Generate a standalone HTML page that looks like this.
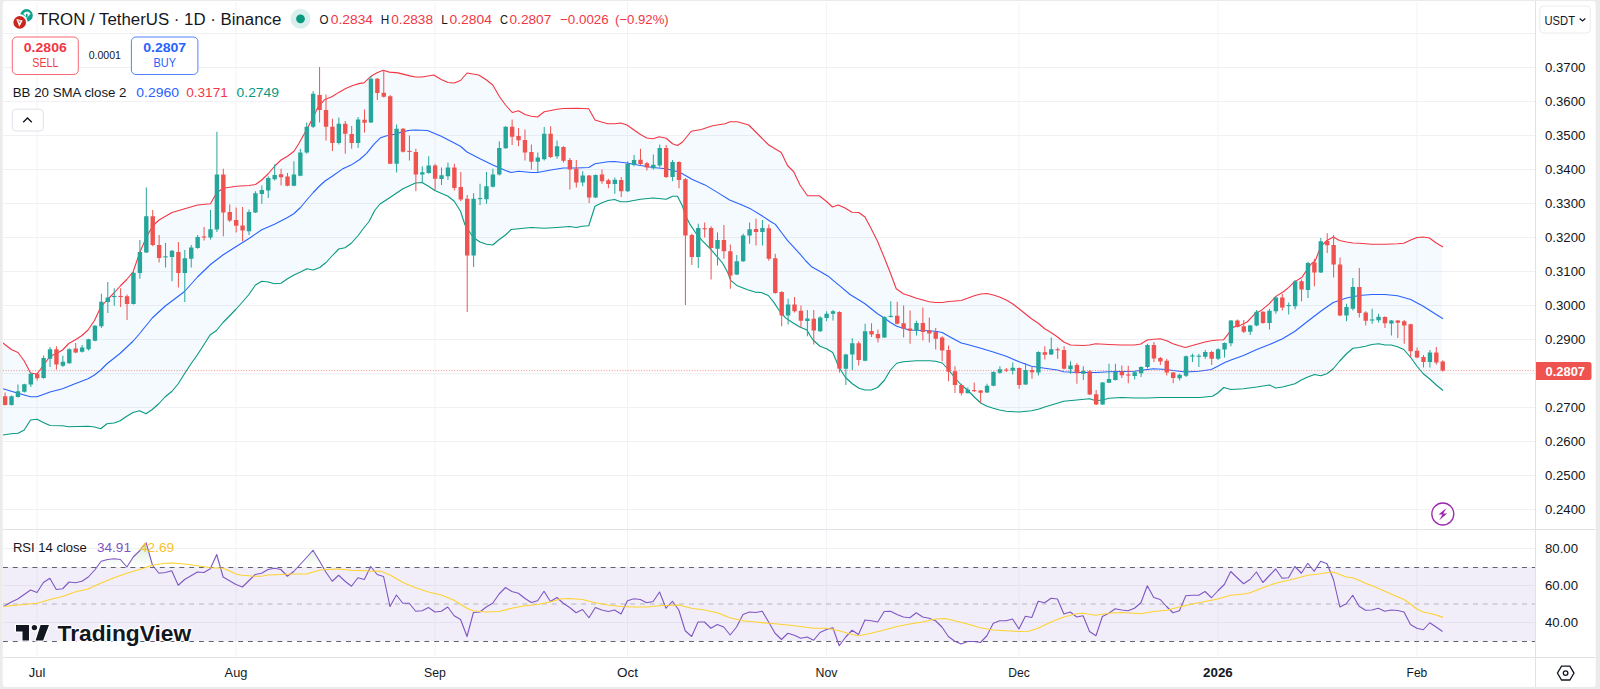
<!DOCTYPE html>
<html><head><meta charset="utf-8"><title>TRXUSDT</title>
<style>
html,body{margin:0;padding:0;background:#fff;}
body{width:1600px;height:689px;overflow:hidden;position:relative;font-family:"Liberation Sans",sans-serif;}
</style></head><body>
<svg width="1600" height="689" viewBox="0 0 1600 689" style="position:absolute;left:0;top:0;font-family:'Liberation Sans',sans-serif">
<defs>
<clipPath id="cm"><rect x="3" y="1" width="1532.5" height="528"/></clipPath>
<clipPath id="cr"><rect x="3" y="530" width="1532.5" height="127"/></clipPath>
<linearGradient id="gob" x1="0" y1="529" x2="0" y2="567.5" gradientUnits="userSpaceOnUse"><stop offset="0" stop-color="#4caf50" stop-opacity="0.35"/><stop offset="1" stop-color="#4caf50" stop-opacity="0.0"/></linearGradient>
<linearGradient id="gos" x1="0" y1="641" x2="0" y2="657" gradientUnits="userSpaceOnUse"><stop offset="0" stop-color="#ff5252" stop-opacity="0.0"/><stop offset="1" stop-color="#ff5252" stop-opacity="0.35"/></linearGradient>
</defs>
<rect x="0" y="0" width="1600" height="689" fill="#ebebeb"/>
<rect x="2.7" y="1" width="1593" height="686.1" rx="3" ry="3" fill="#ffffff"/>
<line x1="3" x2="1535" y1="33.5" y2="33.5" stroke="#f1f1f3" stroke-width="1"/>
<line x1="3" x2="1535" y1="67.5" y2="67.5" stroke="#f1f1f3" stroke-width="1"/>
<line x1="3" x2="1535" y1="101.5" y2="101.5" stroke="#f1f1f3" stroke-width="1"/>
<line x1="3" x2="1535" y1="135.5" y2="135.5" stroke="#f1f1f3" stroke-width="1"/>
<line x1="3" x2="1535" y1="169.5" y2="169.5" stroke="#f1f1f3" stroke-width="1"/>
<line x1="3" x2="1535" y1="203.5" y2="203.5" stroke="#f1f1f3" stroke-width="1"/>
<line x1="3" x2="1535" y1="237.5" y2="237.5" stroke="#f1f1f3" stroke-width="1"/>
<line x1="3" x2="1535" y1="271.5" y2="271.5" stroke="#f1f1f3" stroke-width="1"/>
<line x1="3" x2="1535" y1="305.5" y2="305.5" stroke="#f1f1f3" stroke-width="1"/>
<line x1="3" x2="1535" y1="339.5" y2="339.5" stroke="#f1f1f3" stroke-width="1"/>
<line x1="3" x2="1535" y1="373.5" y2="373.5" stroke="#f1f1f3" stroke-width="1"/>
<line x1="3" x2="1535" y1="407.5" y2="407.5" stroke="#f1f1f3" stroke-width="1"/>
<line x1="3" x2="1535" y1="441.5" y2="441.5" stroke="#f1f1f3" stroke-width="1"/>
<line x1="3" x2="1535" y1="475.5" y2="475.5" stroke="#f1f1f3" stroke-width="1"/>
<line x1="3" x2="1535" y1="509.5" y2="509.5" stroke="#f1f1f3" stroke-width="1"/>
<line x1="3" x2="1535" y1="548.5" y2="548.5" stroke="#f1f1f3" stroke-width="1"/>
<line x1="3" x2="1535" y1="585.5" y2="585.5" stroke="#f1f1f3" stroke-width="1"/>
<line x1="3" x2="1535" y1="622.5" y2="622.5" stroke="#f1f1f3" stroke-width="1"/>
<line x1="37.0" x2="37.0" y1="2" y2="657" stroke="#f3f3f5" stroke-width="1"/>
<line x1="236.0" x2="236.0" y1="2" y2="657" stroke="#f3f3f5" stroke-width="1"/>
<line x1="434.9" x2="434.9" y1="2" y2="657" stroke="#f3f3f5" stroke-width="1"/>
<line x1="627.5" x2="627.5" y1="2" y2="657" stroke="#f3f3f5" stroke-width="1"/>
<line x1="826.4" x2="826.4" y1="2" y2="657" stroke="#f3f3f5" stroke-width="1"/>
<line x1="1019.0" x2="1019.0" y1="2" y2="657" stroke="#f3f3f5" stroke-width="1"/>
<line x1="1217.9" x2="1217.9" y1="2" y2="657" stroke="#f3f3f5" stroke-width="1"/>
<line x1="1416.9" x2="1416.9" y1="2" y2="657" stroke="#f3f3f5" stroke-width="1"/>
<g clip-path="url(#cm)">
<clipPath id="cf"><rect x="3" y="1" width="1439" height="528"/></clipPath>
<polygon clip-path="url(#cf)" points="3.00,343.00 11.25,349.50 18.00,352.50 24.25,361.00 30.50,373.00 37.00,374.00 43.25,365.50 50.00,356.25 56.50,353.50 62.50,350.00 68.75,343.50 75.00,340.00 82.00,335.50 88.00,330.00 94.50,320.50 100.75,307.00 107.00,300.00 114.00,293.00 120.25,286.00 126.75,279.50 133.00,272.00 139.75,252.50 146.25,237.50 152.50,226.25 159.00,220.00 172.00,212.50 184.75,208.75 197.50,205.00 210.50,203.75 216.75,192.50 223.25,188.25 236.25,186.25 249.00,185.50 255.50,184.50 261.75,180.00 268.25,173.75 274.50,166.25 281.00,160.00 287.50,156.25 294.00,151.25 298.70,143.80 307.40,128.20 312.60,118.60 317.90,107.30 324.80,99.40 331.80,96.80 338.80,92.40 345.70,88.40 352.70,85.50 359.70,83.40 364.00,82.90 371.00,76.20 377.00,72.80 383.20,70.30 389.30,72.10 398.00,72.90 410.00,75.90 415.50,77.00 422.00,77.00 433.75,75.00 441.25,79.50 448.00,82.50 454.25,83.00 460.50,80.50 467.00,73.00 478.75,75.00 486.50,80.00 492.75,85.00 499.25,96.25 505.50,105.00 512.25,112.50 518.50,110.75 525.00,114.50 531.25,116.25 537.50,117.00 544.25,111.75 550.75,110.50 557.00,109.25 563.25,108.50 576.25,108.25 588.75,108.75 595.00,120.00 601.50,122.00 608.00,123.75 614.50,123.75 620.75,123.00 627.00,125.00 634.00,130.00 640.50,134.50 646.75,138.00 653.00,138.75 659.25,136.75 666.25,138.25 672.50,143.75 677.50,145.50 682.50,142.00 691.25,131.25 701.25,129.50 712.50,125.75 725.00,123.75 730.00,121.75 737.50,121.75 748.75,125.00 757.50,133.75 760.00,136.25 768.75,145.00 781.25,152.50 787.50,165.50 793.75,171.75 800.00,185.00 807.50,195.75 819.25,195.75 826.25,201.25 832.50,207.00 838.25,205.00 845.00,208.00 852.00,212.25 858.75,212.50 865.00,217.00 871.25,228.75 877.50,241.25 883.75,256.25 890.00,272.00 896.25,288.75 903.25,293.75 909.50,295.75 916.50,298.25 923.00,300.00 929.25,301.75 935.50,302.50 942.25,302.50 948.75,301.50 961.25,300.50 967.50,298.25 974.25,295.75 980.75,294.00 987.00,293.50 993.25,295.00 999.50,297.00 1006.25,300.00 1012.50,303.75 1019.00,308.75 1025.25,313.75 1031.50,318.75 1038.25,323.25 1044.75,328.75 1051.00,332.50 1057.25,336.75 1063.75,342.00 1070.50,345.00 1083.25,345.50 1089.50,345.00 1095.75,343.75 1109.00,344.50 1121.50,345.00 1134.50,345.00 1140.75,344.00 1147.25,340.00 1153.75,339.25 1160.25,338.75 1166.75,340.75 1173.00,343.75 1179.25,345.75 1185.50,347.50 1192.25,345.50 1198.75,343.75 1205.00,342.00 1211.25,340.75 1217.75,340.00 1223.70,339.70 1228.80,333.20 1233.30,327.10 1241.00,325.00 1247.10,322.00 1251.10,317.90 1255.20,313.30 1261.30,310.40 1269.40,303.70 1275.50,296.60 1283.70,291.50 1288.70,287.40 1293.80,282.40 1302.00,277.30 1308.00,268.10 1312.10,263.00 1315.20,261.00 1320.75,246.25 1327.00,240.50 1333.25,237.00 1339.50,240.50 1346.50,242.00 1353.00,243.00 1359.25,243.25 1371.75,244.25 1385.00,244.25 1397.50,243.75 1403.75,243.25 1410.75,240.00 1417.00,237.50 1423.25,237.00 1429.50,238.00 1436.25,243.00 1443.00,247.00 1443.00,390.50 1436.25,385.00 1429.50,378.75 1423.25,373.75 1417.00,366.25 1410.75,357.50 1403.75,349.50 1397.50,346.75 1391.25,345.00 1385.00,345.00 1378.75,343.75 1371.75,344.50 1365.50,346.25 1359.25,347.50 1353.00,348.25 1346.50,353.75 1339.50,361.25 1333.25,368.75 1327.00,373.75 1320.75,375.75 1314.50,374.50 1307.75,377.00 1301.25,380.00 1295.00,383.75 1282.50,387.00 1275.75,388.00 1269.50,385.00 1256.75,387.00 1243.50,388.75 1231.00,389.50 1223.75,387.50 1217.75,393.00 1212.50,396.25 1200.00,397.50 1185.00,397.50 1160.00,397.50 1147.25,398.00 1134.50,398.00 1121.50,397.50 1109.00,398.25 1102.50,400.00 1095.75,400.75 1089.50,398.75 1076.75,400.00 1063.75,401.25 1057.25,403.25 1044.75,407.00 1038.25,409.25 1031.50,410.75 1019.00,412.00 1006.25,411.25 999.50,410.00 993.25,408.25 987.00,406.25 980.75,403.00 974.25,397.00 967.50,390.00 961.25,385.00 955.00,378.00 948.75,370.00 942.25,363.00 935.50,361.25 929.25,360.75 916.50,360.75 903.25,361.75 896.75,363.25 890.50,370.00 884.25,380.50 877.50,387.50 871.25,390.00 865.00,390.00 859.00,388.25 852.25,383.75 845.50,377.50 839.00,367.50 832.75,352.50 826.50,348.75 820.00,346.25 813.00,340.00 809.90,335.20 806.90,330.10 799.80,327.00 791.60,322.00 785.50,317.90 779.40,310.80 773.30,301.60 768.30,295.50 761.10,292.50 755.00,292.10 746.90,289.40 736.70,285.40 730.70,280.30 727.60,272.20 722.50,263.00 716.40,255.90 710.30,248.80 702.20,240.70 696.10,233.50 690.00,224.40 685.25,215.00 682.50,206.25 677.50,196.25 672.50,196.25 666.25,199.25 653.00,198.00 640.50,199.25 627.00,201.75 620.75,201.75 614.50,199.50 608.00,200.50 601.50,203.00 595.00,206.25 588.75,225.75 582.50,226.25 576.25,227.50 569.50,226.50 557.00,227.50 544.25,228.25 531.25,227.50 518.50,228.75 511.25,229.50 505.50,235.00 499.25,239.50 492.75,245.00 486.50,244.25 480.00,242.00 473.25,237.50 465.00,225.00 460.50,211.25 454.25,201.25 448.00,196.25 434.75,190.50 428.50,186.25 422.00,182.50 415.50,183.00 403.00,188.75 390.00,197.50 380.00,204.00 375.00,210.00 368.75,222.00 364.50,227.00 358.00,235.75 351.25,243.25 345.00,247.75 338.75,249.00 332.25,255.75 326.00,262.50 319.75,267.50 313.25,270.00 307.00,268.75 300.50,272.00 294.00,275.00 287.50,278.75 281.00,283.25 274.50,283.75 268.25,282.00 261.75,281.25 255.50,285.00 248.50,295.00 242.00,302.50 235.75,309.50 229.25,316.25 223.00,322.50 216.50,330.50 210.00,335.00 203.75,345.00 197.25,355.00 191.00,363.75 184.50,373.75 178.25,383.75 172.00,391.25 165.00,397.00 158.75,403.75 152.25,409.50 146.00,413.75 139.50,410.75 133.00,412.50 126.75,416.25 120.25,420.75 114.00,423.00 107.00,423.75 100.75,428.75 94.50,427.00 88.00,426.25 68.75,426.75 62.50,425.75 50.00,425.50 43.25,422.50 37.00,419.25 30.50,420.00 24.25,430.00 18.00,433.25 11.25,433.75 3.00,435.00" fill="#2196f3" fill-opacity="0.05"/>
<polyline points="3.00,388.75 11.25,391.25 24.25,395.00 30.50,396.75 37.00,396.75 43.25,394.50 50.00,392.00 62.50,388.75 75.00,383.75 88.00,378.75 94.50,375.00 100.75,370.00 107.00,363.75 120.25,353.25 133.00,341.25 139.50,333.75 152.25,318.00 165.00,306.25 178.25,296.25 184.50,291.50 197.50,277.00 210.50,264.50 223.25,254.75 236.25,246.50 249.00,238.50 261.75,229.75 274.50,224.25 287.50,217.50 293.75,213.75 300.50,207.50 306.75,200.00 313.25,192.50 319.25,186.25 325.00,181.00 332.25,176.25 342.30,169.10 351.00,165.10 359.70,159.50 366.60,153.40 373.60,144.70 380.60,137.70 385.80,136.00 394.50,134.30 403.20,131.60 410.00,130.20 415.50,130.00 427.50,130.50 441.25,136.25 460.50,146.25 467.00,152.00 480.00,158.75 492.75,165.00 505.50,170.50 511.25,172.50 518.50,171.25 531.25,172.50 537.50,172.50 550.75,170.00 563.25,168.00 576.25,168.00 588.75,167.50 595.00,163.75 608.00,161.75 614.50,161.50 627.00,163.00 640.50,165.50 653.00,167.50 666.25,168.75 679.00,172.00 682.40,173.70 692.40,179.40 704.90,184.90 717.40,192.40 729.60,200.00 740.80,204.50 751.00,209.10 761.10,215.20 771.30,222.00 775.40,224.40 781.50,232.50 787.60,240.70 793.70,247.20 799.80,253.90 805.90,261.00 812.00,267.10 820.10,271.50 828.20,276.20 834.30,281.30 840.40,286.40 850.00,294.50 859.00,300.00 865.00,303.75 877.50,313.75 884.25,318.00 890.50,322.50 896.75,326.25 903.25,328.25 909.50,330.00 923.00,330.50 935.50,331.25 942.25,332.50 948.75,336.25 961.25,343.00 967.50,344.50 980.75,348.25 993.25,352.00 1006.25,356.25 1019.00,361.75 1031.50,366.25 1044.75,368.25 1057.25,370.00 1063.75,371.75 1076.75,372.50 1095.75,372.50 1109.00,371.75 1134.50,371.25 1147.25,369.50 1153.25,368.75 1166.75,369.50 1173.00,370.50 1185.50,372.00 1198.75,371.25 1211.25,369.50 1217.75,366.25 1224.75,362.50 1231.00,360.00 1243.50,355.50 1256.75,349.50 1269.50,344.50 1282.50,338.75 1295.00,331.25 1307.75,321.25 1320.75,311.25 1333.25,302.50 1346.50,298.00 1359.25,295.50 1371.75,294.50 1385.00,294.50 1397.50,295.75 1410.75,299.50 1423.25,306.25 1436.25,314.50 1443.00,318.75" fill="none" stroke="#2962ff" stroke-width="1.1" stroke-linejoin="round"/>
<polyline points="3.00,343.00 11.25,349.50 18.00,352.50 24.25,361.00 30.50,373.00 37.00,374.00 43.25,365.50 50.00,356.25 56.50,353.50 62.50,350.00 68.75,343.50 75.00,340.00 82.00,335.50 88.00,330.00 94.50,320.50 100.75,307.00 107.00,300.00 114.00,293.00 120.25,286.00 126.75,279.50 133.00,272.00 139.75,252.50 146.25,237.50 152.50,226.25 159.00,220.00 172.00,212.50 184.75,208.75 197.50,205.00 210.50,203.75 216.75,192.50 223.25,188.25 236.25,186.25 249.00,185.50 255.50,184.50 261.75,180.00 268.25,173.75 274.50,166.25 281.00,160.00 287.50,156.25 294.00,151.25 298.70,143.80 307.40,128.20 312.60,118.60 317.90,107.30 324.80,99.40 331.80,96.80 338.80,92.40 345.70,88.40 352.70,85.50 359.70,83.40 364.00,82.90 371.00,76.20 377.00,72.80 383.20,70.30 389.30,72.10 398.00,72.90 410.00,75.90 415.50,77.00 422.00,77.00 433.75,75.00 441.25,79.50 448.00,82.50 454.25,83.00 460.50,80.50 467.00,73.00 478.75,75.00 486.50,80.00 492.75,85.00 499.25,96.25 505.50,105.00 512.25,112.50 518.50,110.75 525.00,114.50 531.25,116.25 537.50,117.00 544.25,111.75 550.75,110.50 557.00,109.25 563.25,108.50 576.25,108.25 588.75,108.75 595.00,120.00 601.50,122.00 608.00,123.75 614.50,123.75 620.75,123.00 627.00,125.00 634.00,130.00 640.50,134.50 646.75,138.00 653.00,138.75 659.25,136.75 666.25,138.25 672.50,143.75 677.50,145.50 682.50,142.00 691.25,131.25 701.25,129.50 712.50,125.75 725.00,123.75 730.00,121.75 737.50,121.75 748.75,125.00 757.50,133.75 760.00,136.25 768.75,145.00 781.25,152.50 787.50,165.50 793.75,171.75 800.00,185.00 807.50,195.75 819.25,195.75 826.25,201.25 832.50,207.00 838.25,205.00 845.00,208.00 852.00,212.25 858.75,212.50 865.00,217.00 871.25,228.75 877.50,241.25 883.75,256.25 890.00,272.00 896.25,288.75 903.25,293.75 909.50,295.75 916.50,298.25 923.00,300.00 929.25,301.75 935.50,302.50 942.25,302.50 948.75,301.50 961.25,300.50 967.50,298.25 974.25,295.75 980.75,294.00 987.00,293.50 993.25,295.00 999.50,297.00 1006.25,300.00 1012.50,303.75 1019.00,308.75 1025.25,313.75 1031.50,318.75 1038.25,323.25 1044.75,328.75 1051.00,332.50 1057.25,336.75 1063.75,342.00 1070.50,345.00 1083.25,345.50 1089.50,345.00 1095.75,343.75 1109.00,344.50 1121.50,345.00 1134.50,345.00 1140.75,344.00 1147.25,340.00 1153.75,339.25 1160.25,338.75 1166.75,340.75 1173.00,343.75 1179.25,345.75 1185.50,347.50 1192.25,345.50 1198.75,343.75 1205.00,342.00 1211.25,340.75 1217.75,340.00 1223.70,339.70 1228.80,333.20 1233.30,327.10 1241.00,325.00 1247.10,322.00 1251.10,317.90 1255.20,313.30 1261.30,310.40 1269.40,303.70 1275.50,296.60 1283.70,291.50 1288.70,287.40 1293.80,282.40 1302.00,277.30 1308.00,268.10 1312.10,263.00 1315.20,261.00 1320.75,246.25 1327.00,240.50 1333.25,237.00 1339.50,240.50 1346.50,242.00 1353.00,243.00 1359.25,243.25 1371.75,244.25 1385.00,244.25 1397.50,243.75 1403.75,243.25 1410.75,240.00 1417.00,237.50 1423.25,237.00 1429.50,238.00 1436.25,243.00 1443.00,247.00" fill="none" stroke="#f23645" stroke-width="1.1" stroke-linejoin="round"/>
<polyline points="3.00,435.00 11.25,433.75 18.00,433.25 24.25,430.00 30.50,420.00 37.00,419.25 43.25,422.50 50.00,425.50 62.50,425.75 68.75,426.75 88.00,426.25 94.50,427.00 100.75,428.75 107.00,423.75 114.00,423.00 120.25,420.75 126.75,416.25 133.00,412.50 139.50,410.75 146.00,413.75 152.25,409.50 158.75,403.75 165.00,397.00 172.00,391.25 178.25,383.75 184.50,373.75 191.00,363.75 197.25,355.00 203.75,345.00 210.00,335.00 216.50,330.50 223.00,322.50 229.25,316.25 235.75,309.50 242.00,302.50 248.50,295.00 255.50,285.00 261.75,281.25 268.25,282.00 274.50,283.75 281.00,283.25 287.50,278.75 294.00,275.00 300.50,272.00 307.00,268.75 313.25,270.00 319.75,267.50 326.00,262.50 332.25,255.75 338.75,249.00 345.00,247.75 351.25,243.25 358.00,235.75 364.50,227.00 368.75,222.00 375.00,210.00 380.00,204.00 390.00,197.50 403.00,188.75 415.50,183.00 422.00,182.50 428.50,186.25 434.75,190.50 448.00,196.25 454.25,201.25 460.50,211.25 465.00,225.00 473.25,237.50 480.00,242.00 486.50,244.25 492.75,245.00 499.25,239.50 505.50,235.00 511.25,229.50 518.50,228.75 531.25,227.50 544.25,228.25 557.00,227.50 569.50,226.50 576.25,227.50 582.50,226.25 588.75,225.75 595.00,206.25 601.50,203.00 608.00,200.50 614.50,199.50 620.75,201.75 627.00,201.75 640.50,199.25 653.00,198.00 666.25,199.25 672.50,196.25 677.50,196.25 682.50,206.25 685.25,215.00 690.00,224.40 696.10,233.50 702.20,240.70 710.30,248.80 716.40,255.90 722.50,263.00 727.60,272.20 730.70,280.30 736.70,285.40 746.90,289.40 755.00,292.10 761.10,292.50 768.30,295.50 773.30,301.60 779.40,310.80 785.50,317.90 791.60,322.00 799.80,327.00 806.90,330.10 809.90,335.20 813.00,340.00 820.00,346.25 826.50,348.75 832.75,352.50 839.00,367.50 845.50,377.50 852.25,383.75 859.00,388.25 865.00,390.00 871.25,390.00 877.50,387.50 884.25,380.50 890.50,370.00 896.75,363.25 903.25,361.75 916.50,360.75 929.25,360.75 935.50,361.25 942.25,363.00 948.75,370.00 955.00,378.00 961.25,385.00 967.50,390.00 974.25,397.00 980.75,403.00 987.00,406.25 993.25,408.25 999.50,410.00 1006.25,411.25 1019.00,412.00 1031.50,410.75 1038.25,409.25 1044.75,407.00 1057.25,403.25 1063.75,401.25 1076.75,400.00 1089.50,398.75 1095.75,400.75 1102.50,400.00 1109.00,398.25 1121.50,397.50 1134.50,398.00 1147.25,398.00 1160.00,397.50 1185.00,397.50 1200.00,397.50 1212.50,396.25 1217.75,393.00 1223.75,387.50 1231.00,389.50 1243.50,388.75 1256.75,387.00 1269.50,385.00 1275.75,388.00 1282.50,387.00 1295.00,383.75 1301.25,380.00 1307.75,377.00 1314.50,374.50 1320.75,375.75 1327.00,373.75 1333.25,368.75 1339.50,361.25 1346.50,353.75 1353.00,348.25 1359.25,347.50 1365.50,346.25 1371.75,344.50 1378.75,343.75 1385.00,345.00 1391.25,345.00 1397.50,346.75 1403.75,349.50 1410.75,357.50 1417.00,366.25 1423.25,373.75 1429.50,378.75 1436.25,385.00 1443.00,390.50" fill="none" stroke="#089981" stroke-width="1.1" stroke-linejoin="round"/>
<line x1="3" x2="1535" y1="370.6" y2="370.6" stroke="#ef5350" stroke-width="1" stroke-dasharray="1 1.67" stroke-opacity="0.65"/>
<line x1="5.11" x2="5.11" y1="392.50" y2="405.50" stroke="#ef5350" stroke-width="1"/>
 <rect x="2.91" y="396.25" width="4.4" height="8.75" fill="#ef5350"/>
<line x1="11.53" x2="11.53" y1="395.50" y2="405.50" stroke="#26a69a" stroke-width="1"/>
 <rect x="9.33" y="396.25" width="4.4" height="8.75" fill="#26a69a"/>
<line x1="17.95" x2="17.95" y1="384.50" y2="397.50" stroke="#26a69a" stroke-width="1"/>
 <rect x="15.75" y="391.25" width="4.4" height="5.75" fill="#26a69a"/>
<line x1="24.36" x2="24.36" y1="383.75" y2="392.50" stroke="#26a69a" stroke-width="1"/>
 <rect x="22.16" y="384.25" width="4.4" height="7.50" fill="#26a69a"/>
<line x1="30.78" x2="30.78" y1="372.50" y2="387.00" stroke="#26a69a" stroke-width="1"/>
 <rect x="28.58" y="373.75" width="4.4" height="10.75" fill="#26a69a"/>
<line x1="37.20" x2="37.20" y1="372.50" y2="380.50" stroke="#ef5350" stroke-width="1"/>
 <rect x="35.00" y="373.75" width="4.4" height="4.50" fill="#ef5350"/>
<line x1="43.62" x2="43.62" y1="355.50" y2="378.75" stroke="#26a69a" stroke-width="1"/>
 <rect x="41.42" y="358.00" width="4.4" height="20.00" fill="#26a69a"/>
<line x1="50.04" x2="50.04" y1="347.00" y2="367.00" stroke="#26a69a" stroke-width="1"/>
 <rect x="47.84" y="349.25" width="4.4" height="9.50" fill="#26a69a"/>
<line x1="56.45" x2="56.45" y1="346.25" y2="369.50" stroke="#ef5350" stroke-width="1"/>
 <rect x="54.25" y="349.25" width="4.4" height="15.25" fill="#ef5350"/>
<line x1="62.87" x2="62.87" y1="355.75" y2="367.00" stroke="#26a69a" stroke-width="1"/>
 <rect x="60.67" y="361.75" width="4.4" height="4.00" fill="#26a69a"/>
<line x1="69.29" x2="69.29" y1="348.25" y2="363.75" stroke="#26a69a" stroke-width="1"/>
 <rect x="67.09" y="349.25" width="4.4" height="14.00" fill="#26a69a"/>
<line x1="75.71" x2="75.71" y1="343.00" y2="353.25" stroke="#ef5350" stroke-width="1"/>
 <rect x="73.51" y="348.50" width="4.4" height="4.00" fill="#ef5350"/>
<line x1="82.13" x2="82.13" y1="345.00" y2="352.50" stroke="#26a69a" stroke-width="1"/>
 <rect x="79.93" y="347.50" width="4.4" height="4.25" fill="#26a69a"/>
<line x1="88.54" x2="88.54" y1="338.75" y2="350.50" stroke="#26a69a" stroke-width="1"/>
 <rect x="86.34" y="339.25" width="4.4" height="10.00" fill="#26a69a"/>
<line x1="94.96" x2="94.96" y1="325.00" y2="341.25" stroke="#26a69a" stroke-width="1"/>
 <rect x="92.76" y="325.75" width="4.4" height="15.00" fill="#26a69a"/>
<line x1="101.38" x2="101.38" y1="293.75" y2="328.00" stroke="#26a69a" stroke-width="1"/>
 <rect x="99.18" y="301.75" width="4.4" height="24.50" fill="#26a69a"/>
<line x1="107.80" x2="107.80" y1="282.00" y2="313.00" stroke="#26a69a" stroke-width="1"/>
 <rect x="105.60" y="297.50" width="4.4" height="4.50" fill="#26a69a"/>
<line x1="114.22" x2="114.22" y1="288.25" y2="305.75" stroke="#26a69a" stroke-width="1"/>
 <rect x="112.02" y="295.95" width="4.4" height="1.10" fill="#26a69a"/>
<line x1="120.63" x2="120.63" y1="288.25" y2="307.00" stroke="#ef5350" stroke-width="1"/>
 <rect x="118.43" y="295.95" width="4.4" height="1.10" fill="#ef5350"/>
<line x1="127.05" x2="127.05" y1="294.50" y2="320.00" stroke="#ef5350" stroke-width="1"/>
 <rect x="124.85" y="296.25" width="4.4" height="7.75" fill="#ef5350"/>
<line x1="133.47" x2="133.47" y1="272.00" y2="304.50" stroke="#26a69a" stroke-width="1"/>
 <rect x="131.27" y="272.75" width="4.4" height="31.25" fill="#26a69a"/>
<line x1="139.89" x2="139.89" y1="240.00" y2="278.75" stroke="#26a69a" stroke-width="1"/>
 <rect x="137.69" y="252.00" width="4.4" height="21.00" fill="#26a69a"/>
<line x1="146.31" x2="146.31" y1="187.50" y2="253.00" stroke="#26a69a" stroke-width="1"/>
 <rect x="144.11" y="216.25" width="4.4" height="36.25" fill="#26a69a"/>
<line x1="152.72" x2="152.72" y1="210.00" y2="246.25" stroke="#ef5350" stroke-width="1"/>
 <rect x="150.52" y="216.25" width="4.4" height="28.75" fill="#ef5350"/>
<line x1="159.14" x2="159.14" y1="235.00" y2="262.50" stroke="#ef5350" stroke-width="1"/>
 <rect x="156.94" y="245.00" width="4.4" height="13.00" fill="#ef5350"/>
<line x1="165.56" x2="165.56" y1="243.00" y2="267.50" stroke="#26a69a" stroke-width="1"/>
 <rect x="163.36" y="256.32" width="4.4" height="1.10" fill="#26a69a"/>
<line x1="171.98" x2="171.98" y1="250.00" y2="281.25" stroke="#26a69a" stroke-width="1"/>
 <rect x="169.78" y="250.75" width="4.4" height="6.25" fill="#26a69a"/>
<line x1="178.40" x2="178.40" y1="242.00" y2="287.50" stroke="#ef5350" stroke-width="1"/>
 <rect x="176.20" y="252.00" width="4.4" height="21.00" fill="#ef5350"/>
<line x1="184.81" x2="184.81" y1="250.00" y2="302.00" stroke="#26a69a" stroke-width="1"/>
 <rect x="182.61" y="258.25" width="4.4" height="14.75" fill="#26a69a"/>
<line x1="191.23" x2="191.23" y1="245.00" y2="267.50" stroke="#26a69a" stroke-width="1"/>
 <rect x="189.03" y="247.50" width="4.4" height="11.25" fill="#26a69a"/>
<line x1="197.65" x2="197.65" y1="235.00" y2="248.75" stroke="#26a69a" stroke-width="1"/>
 <rect x="195.45" y="237.00" width="4.4" height="11.00" fill="#26a69a"/>
<line x1="204.07" x2="204.07" y1="227.00" y2="240.50" stroke="#ef5350" stroke-width="1"/>
 <rect x="201.87" y="236.45" width="4.4" height="1.10" fill="#ef5350"/>
<line x1="210.49" x2="210.49" y1="210.00" y2="239.50" stroke="#26a69a" stroke-width="1"/>
 <rect x="208.29" y="229.25" width="4.4" height="8.25" fill="#26a69a"/>
<line x1="216.90" x2="216.90" y1="131.75" y2="232.00" stroke="#26a69a" stroke-width="1"/>
 <rect x="214.70" y="174.50" width="4.4" height="55.00" fill="#26a69a"/>
<line x1="223.32" x2="223.32" y1="168.75" y2="236.25" stroke="#ef5350" stroke-width="1"/>
 <rect x="221.12" y="174.50" width="4.4" height="38.00" fill="#ef5350"/>
<line x1="229.74" x2="229.74" y1="204.50" y2="222.00" stroke="#ef5350" stroke-width="1"/>
 <rect x="227.54" y="212.00" width="4.4" height="8.50" fill="#ef5350"/>
<line x1="236.16" x2="236.16" y1="207.50" y2="232.50" stroke="#ef5350" stroke-width="1"/>
 <rect x="233.96" y="220.00" width="4.4" height="5.75" fill="#ef5350"/>
<line x1="242.58" x2="242.58" y1="207.00" y2="241.25" stroke="#ef5350" stroke-width="1"/>
 <rect x="240.38" y="225.50" width="4.4" height="5.00" fill="#ef5350"/>
<line x1="248.99" x2="248.99" y1="209.50" y2="235.00" stroke="#26a69a" stroke-width="1"/>
 <rect x="246.79" y="212.00" width="4.4" height="19.25" fill="#26a69a"/>
<line x1="255.41" x2="255.41" y1="191.25" y2="213.00" stroke="#26a69a" stroke-width="1"/>
 <rect x="253.21" y="193.25" width="4.4" height="19.25" fill="#26a69a"/>
<line x1="261.83" x2="261.83" y1="185.50" y2="203.75" stroke="#26a69a" stroke-width="1"/>
 <rect x="259.63" y="190.00" width="4.4" height="4.00" fill="#26a69a"/>
<line x1="268.25" x2="268.25" y1="176.25" y2="198.00" stroke="#26a69a" stroke-width="1"/>
 <rect x="266.05" y="178.00" width="4.4" height="12.50" fill="#26a69a"/>
<line x1="274.67" x2="274.67" y1="164.50" y2="180.50" stroke="#26a69a" stroke-width="1"/>
 <rect x="272.47" y="175.00" width="4.4" height="4.25" fill="#26a69a"/>
<line x1="281.08" x2="281.08" y1="168.75" y2="185.50" stroke="#ef5350" stroke-width="1"/>
 <rect x="278.88" y="174.25" width="4.4" height="3.00" fill="#ef5350"/>
<line x1="287.50" x2="287.50" y1="173.00" y2="186.25" stroke="#ef5350" stroke-width="1"/>
 <rect x="285.30" y="176.50" width="4.4" height="9.25" fill="#ef5350"/>
<line x1="293.92" x2="293.92" y1="161.25" y2="186.25" stroke="#26a69a" stroke-width="1"/>
 <rect x="291.72" y="174.50" width="4.4" height="11.25" fill="#26a69a"/>
<line x1="300.34" x2="300.34" y1="148.75" y2="176.25" stroke="#26a69a" stroke-width="1"/>
 <rect x="298.14" y="152.50" width="4.4" height="23.25" fill="#26a69a"/>
<line x1="306.76" x2="306.76" y1="122.50" y2="153.75" stroke="#26a69a" stroke-width="1"/>
 <rect x="304.56" y="126.75" width="4.4" height="25.75" fill="#26a69a"/>
<line x1="313.17" x2="313.17" y1="91.00" y2="128.00" stroke="#26a69a" stroke-width="1"/>
 <rect x="310.97" y="93.75" width="4.4" height="33.00" fill="#26a69a"/>
<line x1="319.59" x2="319.59" y1="67.00" y2="122.50" stroke="#ef5350" stroke-width="1"/>
 <rect x="317.39" y="95.00" width="4.4" height="15.00" fill="#ef5350"/>
<line x1="326.01" x2="326.01" y1="94.50" y2="140.50" stroke="#ef5350" stroke-width="1"/>
 <rect x="323.81" y="110.00" width="4.4" height="16.75" fill="#ef5350"/>
<line x1="332.43" x2="332.43" y1="118.75" y2="151.00" stroke="#ef5350" stroke-width="1"/>
 <rect x="330.23" y="126.75" width="4.4" height="16.25" fill="#ef5350"/>
<line x1="338.85" x2="338.85" y1="117.50" y2="144.50" stroke="#26a69a" stroke-width="1"/>
 <rect x="336.65" y="123.75" width="4.4" height="19.25" fill="#26a69a"/>
<line x1="345.26" x2="345.26" y1="121.00" y2="153.75" stroke="#ef5350" stroke-width="1"/>
 <rect x="343.06" y="123.75" width="4.4" height="10.00" fill="#ef5350"/>
<line x1="351.68" x2="351.68" y1="126.00" y2="148.75" stroke="#ef5350" stroke-width="1"/>
 <rect x="349.48" y="134.00" width="4.4" height="9.00" fill="#ef5350"/>
<line x1="358.10" x2="358.10" y1="117.00" y2="148.00" stroke="#26a69a" stroke-width="1"/>
 <rect x="355.90" y="119.50" width="4.4" height="23.50" fill="#26a69a"/>
<line x1="364.52" x2="364.52" y1="109.50" y2="132.50" stroke="#ef5350" stroke-width="1"/>
 <rect x="362.32" y="119.75" width="4.4" height="3.00" fill="#ef5350"/>
<line x1="370.94" x2="370.94" y1="76.00" y2="123.00" stroke="#26a69a" stroke-width="1"/>
 <rect x="368.74" y="78.75" width="4.4" height="43.75" fill="#26a69a"/>
<line x1="377.35" x2="377.35" y1="78.00" y2="100.00" stroke="#ef5350" stroke-width="1"/>
 <rect x="375.15" y="78.75" width="4.4" height="14.25" fill="#ef5350"/>
<line x1="383.77" x2="383.77" y1="70.00" y2="97.50" stroke="#ef5350" stroke-width="1"/>
 <rect x="381.57" y="92.75" width="4.4" height="4.00" fill="#ef5350"/>
<line x1="390.19" x2="390.19" y1="95.00" y2="164.00" stroke="#ef5350" stroke-width="1"/>
 <rect x="387.99" y="96.25" width="4.4" height="67.50" fill="#ef5350"/>
<line x1="396.61" x2="396.61" y1="124.50" y2="172.50" stroke="#26a69a" stroke-width="1"/>
 <rect x="394.41" y="128.75" width="4.4" height="35.00" fill="#26a69a"/>
<line x1="403.03" x2="403.03" y1="128.00" y2="152.50" stroke="#ef5350" stroke-width="1"/>
 <rect x="400.83" y="128.75" width="4.4" height="23.00" fill="#ef5350"/>
<line x1="409.44" x2="409.44" y1="135.50" y2="160.50" stroke="#ef5350" stroke-width="1"/>
 <rect x="407.24" y="150.82" width="4.4" height="1.10" fill="#ef5350"/>
<line x1="415.86" x2="415.86" y1="148.75" y2="191.25" stroke="#ef5350" stroke-width="1"/>
 <rect x="413.66" y="152.00" width="4.4" height="22.50" fill="#ef5350"/>
<line x1="422.28" x2="422.28" y1="166.25" y2="182.50" stroke="#26a69a" stroke-width="1"/>
 <rect x="420.08" y="172.25" width="4.4" height="2.25" fill="#26a69a"/>
<line x1="428.70" x2="428.70" y1="156.25" y2="173.75" stroke="#26a69a" stroke-width="1"/>
 <rect x="426.50" y="165.50" width="4.4" height="7.50" fill="#26a69a"/>
<line x1="435.12" x2="435.12" y1="163.75" y2="190.00" stroke="#ef5350" stroke-width="1"/>
 <rect x="432.92" y="165.50" width="4.4" height="13.25" fill="#ef5350"/>
<line x1="441.53" x2="441.53" y1="167.50" y2="185.00" stroke="#26a69a" stroke-width="1"/>
 <rect x="439.33" y="175.25" width="4.4" height="3.75" fill="#26a69a"/>
<line x1="447.95" x2="447.95" y1="162.50" y2="180.00" stroke="#26a69a" stroke-width="1"/>
 <rect x="445.75" y="167.50" width="4.4" height="8.75" fill="#26a69a"/>
<line x1="454.37" x2="454.37" y1="163.75" y2="190.50" stroke="#ef5350" stroke-width="1"/>
 <rect x="452.17" y="167.50" width="4.4" height="20.50" fill="#ef5350"/>
<line x1="460.79" x2="460.79" y1="172.00" y2="201.25" stroke="#ef5350" stroke-width="1"/>
 <rect x="458.59" y="187.00" width="4.4" height="12.50" fill="#ef5350"/>
<line x1="467.21" x2="467.21" y1="195.00" y2="312.00" stroke="#ef5350" stroke-width="1"/>
 <rect x="465.01" y="198.75" width="4.4" height="56.75" fill="#ef5350"/>
<line x1="473.62" x2="473.62" y1="193.25" y2="267.00" stroke="#26a69a" stroke-width="1"/>
 <rect x="471.42" y="198.75" width="4.4" height="56.75" fill="#26a69a"/>
<line x1="480.04" x2="480.04" y1="183.75" y2="205.00" stroke="#26a69a" stroke-width="1"/>
 <rect x="477.84" y="198.07" width="4.4" height="1.10" fill="#26a69a"/>
<line x1="486.46" x2="486.46" y1="172.00" y2="203.75" stroke="#26a69a" stroke-width="1"/>
 <rect x="484.26" y="186.25" width="4.4" height="13.00" fill="#26a69a"/>
<line x1="492.88" x2="492.88" y1="168.75" y2="187.50" stroke="#26a69a" stroke-width="1"/>
 <rect x="490.68" y="174.50" width="4.4" height="12.25" fill="#26a69a"/>
<line x1="499.30" x2="499.30" y1="141.25" y2="175.50" stroke="#26a69a" stroke-width="1"/>
 <rect x="497.10" y="148.00" width="4.4" height="26.50" fill="#26a69a"/>
<line x1="505.71" x2="505.71" y1="126.25" y2="148.75" stroke="#26a69a" stroke-width="1"/>
 <rect x="503.51" y="126.75" width="4.4" height="21.50" fill="#26a69a"/>
<line x1="512.13" x2="512.13" y1="119.50" y2="145.00" stroke="#ef5350" stroke-width="1"/>
 <rect x="509.93" y="126.75" width="4.4" height="10.00" fill="#ef5350"/>
<line x1="518.55" x2="518.55" y1="128.00" y2="146.25" stroke="#ef5350" stroke-width="1"/>
 <rect x="516.35" y="136.00" width="4.4" height="4.25" fill="#ef5350"/>
<line x1="524.97" x2="524.97" y1="129.50" y2="160.50" stroke="#ef5350" stroke-width="1"/>
 <rect x="522.77" y="140.00" width="4.4" height="12.50" fill="#ef5350"/>
<line x1="531.39" x2="531.39" y1="144.50" y2="169.50" stroke="#ef5350" stroke-width="1"/>
 <rect x="529.19" y="152.00" width="4.4" height="9.75" fill="#ef5350"/>
<line x1="537.80" x2="537.80" y1="152.50" y2="172.00" stroke="#26a69a" stroke-width="1"/>
 <rect x="535.60" y="157.50" width="4.4" height="4.25" fill="#26a69a"/>
<line x1="544.22" x2="544.22" y1="127.00" y2="160.50" stroke="#26a69a" stroke-width="1"/>
 <rect x="542.02" y="133.75" width="4.4" height="25.50" fill="#26a69a"/>
<line x1="550.64" x2="550.64" y1="126.25" y2="158.00" stroke="#ef5350" stroke-width="1"/>
 <rect x="548.44" y="133.75" width="4.4" height="23.25" fill="#ef5350"/>
<line x1="557.06" x2="557.06" y1="140.50" y2="158.75" stroke="#26a69a" stroke-width="1"/>
 <rect x="554.86" y="146.25" width="4.4" height="10.00" fill="#26a69a"/>
<line x1="563.48" x2="563.48" y1="146.25" y2="162.50" stroke="#ef5350" stroke-width="1"/>
 <rect x="561.28" y="147.00" width="4.4" height="13.75" fill="#ef5350"/>
<line x1="569.89" x2="569.89" y1="158.00" y2="189.50" stroke="#ef5350" stroke-width="1"/>
 <rect x="567.69" y="160.00" width="4.4" height="9.50" fill="#ef5350"/>
<line x1="576.31" x2="576.31" y1="160.00" y2="187.50" stroke="#ef5350" stroke-width="1"/>
 <rect x="574.11" y="168.75" width="4.4" height="13.75" fill="#ef5350"/>
<line x1="582.73" x2="582.73" y1="171.25" y2="186.25" stroke="#26a69a" stroke-width="1"/>
 <rect x="580.53" y="175.50" width="4.4" height="7.00" fill="#26a69a"/>
<line x1="589.15" x2="589.15" y1="175.00" y2="203.00" stroke="#ef5350" stroke-width="1"/>
 <rect x="586.95" y="175.50" width="4.4" height="22.00" fill="#ef5350"/>
<line x1="595.57" x2="595.57" y1="174.50" y2="198.00" stroke="#26a69a" stroke-width="1"/>
 <rect x="593.37" y="175.00" width="4.4" height="22.50" fill="#26a69a"/>
<line x1="601.98" x2="601.98" y1="169.50" y2="183.75" stroke="#ef5350" stroke-width="1"/>
 <rect x="599.78" y="174.50" width="4.4" height="6.75" fill="#ef5350"/>
<line x1="608.40" x2="608.40" y1="178.75" y2="188.25" stroke="#ef5350" stroke-width="1"/>
 <rect x="606.20" y="180.25" width="4.4" height="3.75" fill="#ef5350"/>
<line x1="614.82" x2="614.82" y1="177.50" y2="193.75" stroke="#26a69a" stroke-width="1"/>
 <rect x="612.62" y="179.75" width="4.4" height="4.25" fill="#26a69a"/>
<line x1="621.24" x2="621.24" y1="177.00" y2="197.00" stroke="#ef5350" stroke-width="1"/>
 <rect x="619.04" y="180.00" width="4.4" height="11.25" fill="#ef5350"/>
<line x1="627.66" x2="627.66" y1="161.25" y2="192.00" stroke="#26a69a" stroke-width="1"/>
 <rect x="625.46" y="163.75" width="4.4" height="27.50" fill="#26a69a"/>
<line x1="634.07" x2="634.07" y1="155.00" y2="166.25" stroke="#26a69a" stroke-width="1"/>
 <rect x="631.87" y="160.00" width="4.4" height="5.00" fill="#26a69a"/>
<line x1="640.49" x2="640.49" y1="148.75" y2="165.00" stroke="#ef5350" stroke-width="1"/>
 <rect x="638.29" y="159.75" width="4.4" height="4.25" fill="#ef5350"/>
<line x1="646.91" x2="646.91" y1="162.00" y2="170.50" stroke="#ef5350" stroke-width="1"/>
 <rect x="644.71" y="163.25" width="4.4" height="4.25" fill="#ef5350"/>
<line x1="653.33" x2="653.33" y1="154.50" y2="169.50" stroke="#26a69a" stroke-width="1"/>
 <rect x="651.13" y="164.75" width="4.4" height="3.50" fill="#26a69a"/>
<line x1="659.75" x2="659.75" y1="144.50" y2="167.50" stroke="#26a69a" stroke-width="1"/>
 <rect x="657.55" y="148.00" width="4.4" height="17.50" fill="#26a69a"/>
<line x1="666.16" x2="666.16" y1="145.00" y2="178.00" stroke="#ef5350" stroke-width="1"/>
 <rect x="663.96" y="148.00" width="4.4" height="29.00" fill="#ef5350"/>
<line x1="672.58" x2="672.58" y1="160.00" y2="181.25" stroke="#26a69a" stroke-width="1"/>
 <rect x="670.38" y="162.00" width="4.4" height="15.00" fill="#26a69a"/>
<line x1="679.00" x2="679.00" y1="161.25" y2="188.25" stroke="#ef5350" stroke-width="1"/>
 <rect x="676.80" y="162.00" width="4.4" height="18.00" fill="#ef5350"/>
<line x1="685.42" x2="685.42" y1="178.00" y2="305.00" stroke="#ef5350" stroke-width="1"/>
 <rect x="683.22" y="179.25" width="4.4" height="56.25" fill="#ef5350"/>
<line x1="691.84" x2="691.84" y1="233.75" y2="265.00" stroke="#ef5350" stroke-width="1"/>
 <rect x="689.64" y="235.00" width="4.4" height="22.00" fill="#ef5350"/>
<line x1="698.25" x2="698.25" y1="223.75" y2="268.00" stroke="#26a69a" stroke-width="1"/>
 <rect x="696.05" y="228.00" width="4.4" height="29.00" fill="#26a69a"/>
<line x1="704.67" x2="704.67" y1="222.50" y2="237.50" stroke="#ef5350" stroke-width="1"/>
 <rect x="702.47" y="228.20" width="4.4" height="1.10" fill="#ef5350"/>
<line x1="711.09" x2="711.09" y1="226.25" y2="279.50" stroke="#ef5350" stroke-width="1"/>
 <rect x="708.89" y="228.00" width="4.4" height="20.00" fill="#ef5350"/>
<line x1="717.51" x2="717.51" y1="232.50" y2="265.50" stroke="#26a69a" stroke-width="1"/>
 <rect x="715.31" y="240.00" width="4.4" height="8.75" fill="#26a69a"/>
<line x1="723.93" x2="723.93" y1="225.00" y2="258.75" stroke="#ef5350" stroke-width="1"/>
 <rect x="721.73" y="240.00" width="4.4" height="11.25" fill="#ef5350"/>
<line x1="730.34" x2="730.34" y1="244.50" y2="288.75" stroke="#ef5350" stroke-width="1"/>
 <rect x="728.14" y="251.25" width="4.4" height="24.25" fill="#ef5350"/>
<line x1="736.76" x2="736.76" y1="255.00" y2="275.00" stroke="#26a69a" stroke-width="1"/>
 <rect x="734.56" y="261.25" width="4.4" height="13.25" fill="#26a69a"/>
<line x1="743.18" x2="743.18" y1="233.75" y2="262.00" stroke="#26a69a" stroke-width="1"/>
 <rect x="740.98" y="235.50" width="4.4" height="25.75" fill="#26a69a"/>
<line x1="749.60" x2="749.60" y1="222.50" y2="243.75" stroke="#26a69a" stroke-width="1"/>
 <rect x="747.40" y="229.25" width="4.4" height="6.25" fill="#26a69a"/>
<line x1="756.02" x2="756.02" y1="218.75" y2="245.50" stroke="#ef5350" stroke-width="1"/>
 <rect x="753.82" y="229.00" width="4.4" height="3.00" fill="#ef5350"/>
<line x1="762.43" x2="762.43" y1="220.00" y2="245.50" stroke="#26a69a" stroke-width="1"/>
 <rect x="760.23" y="228.00" width="4.4" height="4.00" fill="#26a69a"/>
<line x1="768.85" x2="768.85" y1="224.50" y2="260.75" stroke="#ef5350" stroke-width="1"/>
 <rect x="766.65" y="228.25" width="4.4" height="30.50" fill="#ef5350"/>
<line x1="775.27" x2="775.27" y1="253.75" y2="293.75" stroke="#ef5350" stroke-width="1"/>
 <rect x="773.07" y="258.25" width="4.4" height="34.75" fill="#ef5350"/>
<line x1="781.69" x2="781.69" y1="291.25" y2="326.25" stroke="#ef5350" stroke-width="1"/>
 <rect x="779.49" y="292.00" width="4.4" height="23.50" fill="#ef5350"/>
<line x1="788.11" x2="788.11" y1="298.75" y2="324.50" stroke="#26a69a" stroke-width="1"/>
 <rect x="785.91" y="304.50" width="4.4" height="11.00" fill="#26a69a"/>
<line x1="794.52" x2="794.52" y1="297.00" y2="312.50" stroke="#ef5350" stroke-width="1"/>
 <rect x="792.32" y="304.50" width="4.4" height="6.75" fill="#ef5350"/>
<line x1="800.94" x2="800.94" y1="305.50" y2="327.50" stroke="#ef5350" stroke-width="1"/>
 <rect x="798.74" y="310.75" width="4.4" height="10.00" fill="#ef5350"/>
<line x1="807.36" x2="807.36" y1="310.00" y2="336.25" stroke="#26a69a" stroke-width="1"/>
 <rect x="805.16" y="318.50" width="4.4" height="2.50" fill="#26a69a"/>
<line x1="813.78" x2="813.78" y1="310.00" y2="344.50" stroke="#ef5350" stroke-width="1"/>
 <rect x="811.58" y="318.75" width="4.4" height="11.75" fill="#ef5350"/>
<line x1="820.20" x2="820.20" y1="316.25" y2="332.00" stroke="#26a69a" stroke-width="1"/>
 <rect x="818.00" y="317.50" width="4.4" height="13.75" fill="#26a69a"/>
<line x1="826.61" x2="826.61" y1="311.25" y2="321.25" stroke="#26a69a" stroke-width="1"/>
 <rect x="824.41" y="313.75" width="4.4" height="4.25" fill="#26a69a"/>
<line x1="833.03" x2="833.03" y1="310.00" y2="320.50" stroke="#26a69a" stroke-width="1"/>
 <rect x="830.83" y="311.25" width="4.4" height="2.50" fill="#26a69a"/>
<line x1="839.45" x2="839.45" y1="311.25" y2="372.50" stroke="#ef5350" stroke-width="1"/>
 <rect x="837.25" y="312.00" width="4.4" height="56.75" fill="#ef5350"/>
<line x1="845.87" x2="845.87" y1="353.75" y2="385.00" stroke="#26a69a" stroke-width="1"/>
 <rect x="843.67" y="354.50" width="4.4" height="14.25" fill="#26a69a"/>
<line x1="852.29" x2="852.29" y1="338.25" y2="370.00" stroke="#26a69a" stroke-width="1"/>
 <rect x="850.09" y="343.25" width="4.4" height="11.25" fill="#26a69a"/>
<line x1="858.70" x2="858.70" y1="341.25" y2="365.50" stroke="#ef5350" stroke-width="1"/>
 <rect x="856.50" y="343.25" width="4.4" height="16.75" fill="#ef5350"/>
<line x1="865.12" x2="865.12" y1="323.75" y2="361.25" stroke="#26a69a" stroke-width="1"/>
 <rect x="862.92" y="331.25" width="4.4" height="29.50" fill="#26a69a"/>
<line x1="871.54" x2="871.54" y1="323.25" y2="337.00" stroke="#ef5350" stroke-width="1"/>
 <rect x="869.34" y="331.00" width="4.4" height="3.50" fill="#ef5350"/>
<line x1="877.96" x2="877.96" y1="329.50" y2="342.50" stroke="#ef5350" stroke-width="1"/>
 <rect x="875.76" y="334.00" width="4.4" height="4.25" fill="#ef5350"/>
<line x1="884.38" x2="884.38" y1="316.25" y2="338.00" stroke="#26a69a" stroke-width="1"/>
 <rect x="882.18" y="317.00" width="4.4" height="20.50" fill="#26a69a"/>
<line x1="890.79" x2="890.79" y1="301.25" y2="317.50" stroke="#26a69a" stroke-width="1"/>
 <rect x="888.59" y="315.82" width="4.4" height="1.10" fill="#26a69a"/>
<line x1="897.21" x2="897.21" y1="301.75" y2="324.50" stroke="#ef5350" stroke-width="1"/>
 <rect x="895.01" y="315.75" width="4.4" height="8.00" fill="#ef5350"/>
<line x1="903.63" x2="903.63" y1="305.50" y2="337.50" stroke="#ef5350" stroke-width="1"/>
 <rect x="901.43" y="323.25" width="4.4" height="5.50" fill="#ef5350"/>
<line x1="910.05" x2="910.05" y1="310.50" y2="343.75" stroke="#ef5350" stroke-width="1"/>
 <rect x="907.85" y="328.50" width="4.4" height="2.25" fill="#ef5350"/>
<line x1="916.47" x2="916.47" y1="320.75" y2="335.50" stroke="#26a69a" stroke-width="1"/>
 <rect x="914.27" y="323.00" width="4.4" height="7.50" fill="#26a69a"/>
<line x1="922.88" x2="922.88" y1="307.50" y2="340.50" stroke="#ef5350" stroke-width="1"/>
 <rect x="920.68" y="323.00" width="4.4" height="9.00" fill="#ef5350"/>
<line x1="929.30" x2="929.30" y1="317.50" y2="342.50" stroke="#ef5350" stroke-width="1"/>
 <rect x="927.10" y="330.25" width="4.4" height="3.25" fill="#ef5350"/>
<line x1="935.72" x2="935.72" y1="328.00" y2="349.50" stroke="#ef5350" stroke-width="1"/>
 <rect x="933.52" y="332.00" width="4.4" height="6.75" fill="#ef5350"/>
<line x1="942.14" x2="942.14" y1="336.25" y2="361.25" stroke="#ef5350" stroke-width="1"/>
 <rect x="939.94" y="337.50" width="4.4" height="13.00" fill="#ef5350"/>
<line x1="948.56" x2="948.56" y1="345.50" y2="381.25" stroke="#ef5350" stroke-width="1"/>
 <rect x="946.36" y="350.00" width="4.4" height="21.75" fill="#ef5350"/>
<line x1="954.97" x2="954.97" y1="366.25" y2="393.00" stroke="#ef5350" stroke-width="1"/>
 <rect x="952.77" y="371.25" width="4.4" height="13.75" fill="#ef5350"/>
<line x1="961.39" x2="961.39" y1="383.75" y2="395.50" stroke="#ef5350" stroke-width="1"/>
 <rect x="959.19" y="385.00" width="4.4" height="8.25" fill="#ef5350"/>
<line x1="967.81" x2="967.81" y1="387.50" y2="393.25" stroke="#26a69a" stroke-width="1"/>
 <rect x="965.61" y="389.75" width="4.4" height="3.50" fill="#26a69a"/>
<line x1="974.23" x2="974.23" y1="382.50" y2="392.00" stroke="#ef5350" stroke-width="1"/>
 <rect x="972.03" y="390.07" width="4.4" height="1.10" fill="#ef5350"/>
<line x1="980.65" x2="980.65" y1="390.00" y2="403.00" stroke="#ef5350" stroke-width="1"/>
 <rect x="978.45" y="390.50" width="4.4" height="2.25" fill="#ef5350"/>
<line x1="987.06" x2="987.06" y1="383.75" y2="393.00" stroke="#26a69a" stroke-width="1"/>
 <rect x="984.86" y="385.75" width="4.4" height="6.75" fill="#26a69a"/>
<line x1="993.48" x2="993.48" y1="371.25" y2="386.25" stroke="#26a69a" stroke-width="1"/>
 <rect x="991.28" y="372.00" width="4.4" height="13.75" fill="#26a69a"/>
<line x1="999.90" x2="999.90" y1="366.25" y2="373.75" stroke="#26a69a" stroke-width="1"/>
 <rect x="997.70" y="369.25" width="4.4" height="3.50" fill="#26a69a"/>
<line x1="1006.32" x2="1006.32" y1="368.00" y2="372.00" stroke="#ef5350" stroke-width="1"/>
 <rect x="1004.12" y="369.57" width="4.4" height="1.10" fill="#ef5350"/>
<line x1="1012.74" x2="1012.74" y1="362.50" y2="374.50" stroke="#26a69a" stroke-width="1"/>
 <rect x="1010.54" y="367.75" width="4.4" height="3.00" fill="#26a69a"/>
<line x1="1019.15" x2="1019.15" y1="367.50" y2="388.75" stroke="#ef5350" stroke-width="1"/>
 <rect x="1016.95" y="368.00" width="4.4" height="17.00" fill="#ef5350"/>
<line x1="1025.57" x2="1025.57" y1="363.00" y2="385.00" stroke="#26a69a" stroke-width="1"/>
 <rect x="1023.37" y="370.00" width="4.4" height="14.50" fill="#26a69a"/>
<line x1="1031.99" x2="1031.99" y1="367.00" y2="378.75" stroke="#ef5350" stroke-width="1"/>
 <rect x="1029.79" y="370.05" width="4.4" height="2.20" fill="#ef5350"/>
<line x1="1038.41" x2="1038.41" y1="351.25" y2="375.50" stroke="#26a69a" stroke-width="1"/>
 <rect x="1036.21" y="352.00" width="4.4" height="20.50" fill="#26a69a"/>
<line x1="1044.83" x2="1044.83" y1="346.25" y2="359.50" stroke="#ef5350" stroke-width="1"/>
 <rect x="1042.63" y="352.25" width="4.4" height="2.50" fill="#ef5350"/>
<line x1="1051.24" x2="1051.24" y1="337.50" y2="355.00" stroke="#26a69a" stroke-width="1"/>
 <rect x="1049.04" y="349.25" width="4.4" height="5.25" fill="#26a69a"/>
<line x1="1057.66" x2="1057.66" y1="347.50" y2="358.75" stroke="#ef5350" stroke-width="1"/>
 <rect x="1055.46" y="349.20" width="4.4" height="1.10" fill="#ef5350"/>
<line x1="1064.08" x2="1064.08" y1="346.25" y2="369.50" stroke="#ef5350" stroke-width="1"/>
 <rect x="1061.88" y="350.00" width="4.4" height="18.75" fill="#ef5350"/>
<line x1="1070.50" x2="1070.50" y1="361.25" y2="373.75" stroke="#26a69a" stroke-width="1"/>
 <rect x="1068.30" y="365.50" width="4.4" height="3.75" fill="#26a69a"/>
<line x1="1076.92" x2="1076.92" y1="363.00" y2="383.75" stroke="#ef5350" stroke-width="1"/>
 <rect x="1074.72" y="365.00" width="4.4" height="8.25" fill="#ef5350"/>
<line x1="1083.33" x2="1083.33" y1="366.25" y2="380.00" stroke="#26a69a" stroke-width="1"/>
 <rect x="1081.13" y="371.00" width="4.4" height="2.75" fill="#26a69a"/>
<line x1="1089.75" x2="1089.75" y1="370.00" y2="395.00" stroke="#ef5350" stroke-width="1"/>
 <rect x="1087.55" y="371.25" width="4.4" height="23.25" fill="#ef5350"/>
<line x1="1096.17" x2="1096.17" y1="390.00" y2="405.00" stroke="#ef5350" stroke-width="1"/>
 <rect x="1093.97" y="394.25" width="4.4" height="10.25" fill="#ef5350"/>
<line x1="1102.59" x2="1102.59" y1="382.00" y2="405.00" stroke="#26a69a" stroke-width="1"/>
 <rect x="1100.39" y="382.50" width="4.4" height="22.00" fill="#26a69a"/>
<line x1="1109.01" x2="1109.01" y1="363.75" y2="383.00" stroke="#26a69a" stroke-width="1"/>
 <rect x="1106.81" y="379.00" width="4.4" height="3.75" fill="#26a69a"/>
<line x1="1115.42" x2="1115.42" y1="363.75" y2="380.50" stroke="#26a69a" stroke-width="1"/>
 <rect x="1113.22" y="371.75" width="4.4" height="8.25" fill="#26a69a"/>
<line x1="1121.84" x2="1121.84" y1="365.50" y2="378.00" stroke="#ef5350" stroke-width="1"/>
 <rect x="1119.64" y="371.50" width="4.4" height="3.75" fill="#ef5350"/>
<line x1="1128.26" x2="1128.26" y1="365.75" y2="383.25" stroke="#ef5350" stroke-width="1"/>
 <rect x="1126.06" y="374.45" width="4.4" height="1.10" fill="#ef5350"/>
<line x1="1134.68" x2="1134.68" y1="371.25" y2="379.50" stroke="#26a69a" stroke-width="1"/>
 <rect x="1132.48" y="372.25" width="4.4" height="3.75" fill="#26a69a"/>
<line x1="1141.10" x2="1141.10" y1="366.25" y2="377.00" stroke="#26a69a" stroke-width="1"/>
 <rect x="1138.90" y="367.00" width="4.4" height="6.25" fill="#26a69a"/>
<line x1="1147.51" x2="1147.51" y1="343.75" y2="368.50" stroke="#26a69a" stroke-width="1"/>
 <rect x="1145.31" y="345.00" width="4.4" height="22.00" fill="#26a69a"/>
<line x1="1153.93" x2="1153.93" y1="342.00" y2="362.00" stroke="#ef5350" stroke-width="1"/>
 <rect x="1151.73" y="345.00" width="4.4" height="13.50" fill="#ef5350"/>
<line x1="1160.35" x2="1160.35" y1="357.00" y2="365.00" stroke="#ef5350" stroke-width="1"/>
 <rect x="1158.15" y="358.00" width="4.4" height="3.50" fill="#ef5350"/>
<line x1="1166.77" x2="1166.77" y1="358.75" y2="375.50" stroke="#ef5350" stroke-width="1"/>
 <rect x="1164.57" y="360.75" width="4.4" height="11.75" fill="#ef5350"/>
<line x1="1173.19" x2="1173.19" y1="372.00" y2="383.25" stroke="#ef5350" stroke-width="1"/>
 <rect x="1170.99" y="372.50" width="4.4" height="5.50" fill="#ef5350"/>
<line x1="1179.60" x2="1179.60" y1="373.75" y2="380.50" stroke="#26a69a" stroke-width="1"/>
 <rect x="1177.40" y="374.75" width="4.4" height="3.50" fill="#26a69a"/>
<line x1="1186.02" x2="1186.02" y1="355.50" y2="377.00" stroke="#26a69a" stroke-width="1"/>
 <rect x="1183.82" y="356.25" width="4.4" height="19.50" fill="#26a69a"/>
<line x1="1192.44" x2="1192.44" y1="353.75" y2="362.00" stroke="#26a69a" stroke-width="1"/>
 <rect x="1190.24" y="355.45" width="4.4" height="1.10" fill="#26a69a"/>
<line x1="1198.86" x2="1198.86" y1="353.75" y2="367.00" stroke="#26a69a" stroke-width="1"/>
 <rect x="1196.66" y="355.70" width="4.4" height="1.10" fill="#26a69a"/>
<line x1="1205.28" x2="1205.28" y1="350.00" y2="358.75" stroke="#26a69a" stroke-width="1"/>
 <rect x="1203.08" y="352.00" width="4.4" height="4.75" fill="#26a69a"/>
<line x1="1211.69" x2="1211.69" y1="350.75" y2="365.00" stroke="#ef5350" stroke-width="1"/>
 <rect x="1209.49" y="352.00" width="4.4" height="6.75" fill="#ef5350"/>
<line x1="1218.11" x2="1218.11" y1="348.25" y2="360.00" stroke="#26a69a" stroke-width="1"/>
 <rect x="1215.91" y="349.25" width="4.4" height="9.50" fill="#26a69a"/>
<line x1="1224.53" x2="1224.53" y1="342.50" y2="357.50" stroke="#26a69a" stroke-width="1"/>
 <rect x="1222.33" y="343.00" width="4.4" height="6.50" fill="#26a69a"/>
<line x1="1230.95" x2="1230.95" y1="320.00" y2="346.25" stroke="#26a69a" stroke-width="1"/>
 <rect x="1228.75" y="320.50" width="4.4" height="22.75" fill="#26a69a"/>
<line x1="1237.37" x2="1237.37" y1="319.50" y2="327.50" stroke="#ef5350" stroke-width="1"/>
 <rect x="1235.17" y="320.50" width="4.4" height="6.50" fill="#ef5350"/>
<line x1="1243.78" x2="1243.78" y1="320.00" y2="333.00" stroke="#ef5350" stroke-width="1"/>
 <rect x="1241.58" y="326.25" width="4.4" height="5.50" fill="#ef5350"/>
<line x1="1250.20" x2="1250.20" y1="325.00" y2="335.00" stroke="#26a69a" stroke-width="1"/>
 <rect x="1248.00" y="325.50" width="4.4" height="6.25" fill="#26a69a"/>
<line x1="1256.62" x2="1256.62" y1="310.00" y2="326.25" stroke="#26a69a" stroke-width="1"/>
 <rect x="1254.42" y="311.75" width="4.4" height="13.75" fill="#26a69a"/>
<line x1="1263.04" x2="1263.04" y1="311.25" y2="323.75" stroke="#ef5350" stroke-width="1"/>
 <rect x="1260.84" y="311.75" width="4.4" height="11.25" fill="#ef5350"/>
<line x1="1269.46" x2="1269.46" y1="308.75" y2="329.50" stroke="#26a69a" stroke-width="1"/>
 <rect x="1267.26" y="310.75" width="4.4" height="12.25" fill="#26a69a"/>
<line x1="1275.87" x2="1275.87" y1="296.25" y2="313.75" stroke="#26a69a" stroke-width="1"/>
 <rect x="1273.67" y="297.50" width="4.4" height="13.75" fill="#26a69a"/>
<line x1="1282.29" x2="1282.29" y1="293.75" y2="310.50" stroke="#ef5350" stroke-width="1"/>
 <rect x="1280.09" y="297.50" width="4.4" height="10.00" fill="#ef5350"/>
<line x1="1288.71" x2="1288.71" y1="302.50" y2="314.50" stroke="#26a69a" stroke-width="1"/>
 <rect x="1286.51" y="305.07" width="4.4" height="1.10" fill="#26a69a"/>
<line x1="1295.13" x2="1295.13" y1="280.00" y2="309.25" stroke="#26a69a" stroke-width="1"/>
 <rect x="1292.93" y="281.25" width="4.4" height="25.00" fill="#26a69a"/>
<line x1="1301.55" x2="1301.55" y1="279.50" y2="301.25" stroke="#ef5350" stroke-width="1"/>
 <rect x="1299.35" y="281.25" width="4.4" height="8.25" fill="#ef5350"/>
<line x1="1307.96" x2="1307.96" y1="261.75" y2="298.00" stroke="#26a69a" stroke-width="1"/>
 <rect x="1305.76" y="263.00" width="4.4" height="27.00" fill="#26a69a"/>
<line x1="1314.38" x2="1314.38" y1="258.75" y2="286.25" stroke="#ef5350" stroke-width="1"/>
 <rect x="1312.18" y="262.50" width="4.4" height="10.00" fill="#ef5350"/>
<line x1="1320.80" x2="1320.80" y1="238.00" y2="273.00" stroke="#26a69a" stroke-width="1"/>
 <rect x="1318.60" y="241.25" width="4.4" height="31.25" fill="#26a69a"/>
<line x1="1327.22" x2="1327.22" y1="233.25" y2="253.00" stroke="#ef5350" stroke-width="1"/>
 <rect x="1325.02" y="241.00" width="4.4" height="4.25" fill="#ef5350"/>
<line x1="1333.64" x2="1333.64" y1="235.00" y2="277.50" stroke="#ef5350" stroke-width="1"/>
 <rect x="1331.44" y="245.00" width="4.4" height="19.50" fill="#ef5350"/>
<line x1="1340.05" x2="1340.05" y1="257.50" y2="316.25" stroke="#ef5350" stroke-width="1"/>
 <rect x="1337.85" y="264.50" width="4.4" height="51.00" fill="#ef5350"/>
<line x1="1346.47" x2="1346.47" y1="303.75" y2="321.25" stroke="#26a69a" stroke-width="1"/>
 <rect x="1344.27" y="307.00" width="4.4" height="8.50" fill="#26a69a"/>
<line x1="1352.89" x2="1352.89" y1="278.00" y2="310.50" stroke="#26a69a" stroke-width="1"/>
 <rect x="1350.69" y="287.00" width="4.4" height="21.75" fill="#26a69a"/>
<line x1="1359.31" x2="1359.31" y1="268.00" y2="317.50" stroke="#ef5350" stroke-width="1"/>
 <rect x="1357.11" y="287.00" width="4.4" height="26.00" fill="#ef5350"/>
<line x1="1365.73" x2="1365.73" y1="311.25" y2="325.50" stroke="#ef5350" stroke-width="1"/>
 <rect x="1363.53" y="312.50" width="4.4" height="8.25" fill="#ef5350"/>
<line x1="1372.14" x2="1372.14" y1="308.75" y2="323.75" stroke="#26a69a" stroke-width="1"/>
 <rect x="1369.94" y="319.45" width="4.4" height="1.10" fill="#26a69a"/>
<line x1="1378.56" x2="1378.56" y1="313.75" y2="322.50" stroke="#26a69a" stroke-width="1"/>
 <rect x="1376.36" y="316.75" width="4.4" height="3.50" fill="#26a69a"/>
<line x1="1384.98" x2="1384.98" y1="316.25" y2="328.00" stroke="#ef5350" stroke-width="1"/>
 <rect x="1382.78" y="317.00" width="4.4" height="6.25" fill="#ef5350"/>
<line x1="1391.40" x2="1391.40" y1="320.00" y2="335.50" stroke="#26a69a" stroke-width="1"/>
 <rect x="1389.20" y="320.50" width="4.4" height="3.00" fill="#26a69a"/>
<line x1="1397.82" x2="1397.82" y1="320.00" y2="338.00" stroke="#ef5350" stroke-width="1"/>
 <rect x="1395.62" y="320.50" width="4.4" height="2.25" fill="#ef5350"/>
<line x1="1404.23" x2="1404.23" y1="320.00" y2="343.75" stroke="#ef5350" stroke-width="1"/>
 <rect x="1402.03" y="321.25" width="4.4" height="4.25" fill="#ef5350"/>
<line x1="1410.65" x2="1410.65" y1="323.75" y2="357.00" stroke="#ef5350" stroke-width="1"/>
 <rect x="1408.45" y="324.25" width="4.4" height="27.00" fill="#ef5350"/>
<line x1="1417.07" x2="1417.07" y1="347.50" y2="358.25" stroke="#ef5350" stroke-width="1"/>
 <rect x="1414.87" y="350.75" width="4.4" height="6.75" fill="#ef5350"/>
<line x1="1423.49" x2="1423.49" y1="355.00" y2="367.50" stroke="#ef5350" stroke-width="1"/>
 <rect x="1421.29" y="357.00" width="4.4" height="5.00" fill="#ef5350"/>
<line x1="1429.91" x2="1429.91" y1="350.00" y2="367.50" stroke="#26a69a" stroke-width="1"/>
 <rect x="1427.71" y="352.50" width="4.4" height="9.50" fill="#26a69a"/>
<line x1="1436.32" x2="1436.32" y1="347.00" y2="364.50" stroke="#ef5350" stroke-width="1"/>
 <rect x="1434.12" y="352.50" width="4.4" height="10.00" fill="#ef5350"/>
<line x1="1442.74" x2="1442.74" y1="360.25" y2="371.60" stroke="#ef5350" stroke-width="1"/>
 <rect x="1440.54" y="361.50" width="4.4" height="9.10" fill="#ef5350"/>
</g>
<g clip-path="url(#cr)">
<rect x="3" y="567" width="1532.5" height="74" fill="#7e57c2" fill-opacity="0.1"/>
<polygon points="3,567.5 3.00,567.50 4.91,567.50 11.33,567.50 17.75,567.50 24.16,567.50 30.58,567.50 37.00,567.50 43.42,567.50 49.84,567.50 56.25,567.50 62.67,567.50 69.09,567.50 75.51,567.50 81.93,567.50 88.34,567.50 94.76,567.50 101.18,561.25 107.60,559.50 114.02,558.75 120.43,559.50 126.85,567.00 133.27,557.00 139.69,550.75 146.11,542.75 152.52,565.25 158.94,567.50 165.36,567.50 171.78,567.50 178.20,567.50 184.61,567.50 191.03,567.50 197.45,567.50 203.87,567.50 210.29,567.50 216.70,554.50 223.12,567.50 229.54,567.50 235.96,567.50 242.38,567.50 248.79,567.50 255.21,567.50 261.63,567.50 268.05,567.50 274.47,567.50 280.88,567.50 287.30,567.50 293.72,567.50 300.14,564.50 306.56,557.50 312.97,550.25 319.39,560.75 325.81,567.50 332.23,567.50 338.65,567.50 345.06,567.50 351.48,567.50 357.90,567.50 364.32,567.50 370.74,566.50 377.15,567.50 383.57,567.50 389.99,567.50 396.41,567.50 402.83,567.50 409.24,567.50 415.66,567.50 422.08,567.50 428.50,567.50 434.92,567.50 441.33,567.50 447.75,567.50 454.17,567.50 460.59,567.50 467.01,567.50 473.42,567.50 479.84,567.50 486.26,567.50 492.68,567.50 499.10,567.50 505.51,567.50 511.93,567.50 518.35,567.50 524.77,567.50 531.19,567.50 537.60,567.50 544.02,567.50 550.44,567.50 556.86,567.50 563.28,567.50 569.69,567.50 576.11,567.50 582.53,567.50 588.95,567.50 595.37,567.50 601.78,567.50 608.20,567.50 614.62,567.50 621.04,567.50 627.46,567.50 633.87,567.50 640.29,567.50 646.71,567.50 653.13,567.50 659.55,567.50 665.96,567.50 672.38,567.50 678.80,567.50 685.22,567.50 691.64,567.50 698.05,567.50 704.47,567.50 710.89,567.50 717.31,567.50 723.73,567.50 730.14,567.50 736.56,567.50 742.98,567.50 749.40,567.50 755.82,567.50 762.23,567.50 768.65,567.50 775.07,567.50 781.49,567.50 787.91,567.50 794.32,567.50 800.74,567.50 807.16,567.50 813.58,567.50 820.00,567.50 826.41,567.50 832.83,567.50 839.25,567.50 845.67,567.50 852.09,567.50 858.50,567.50 864.92,567.50 871.34,567.50 877.76,567.50 884.18,567.50 890.59,567.50 897.01,567.50 903.43,567.50 909.85,567.50 916.27,567.50 922.68,567.50 929.10,567.50 935.52,567.50 941.94,567.50 948.36,567.50 954.77,567.50 961.19,567.50 967.61,567.50 974.03,567.50 980.45,567.50 986.86,567.50 993.28,567.50 999.70,567.50 1006.12,567.50 1012.54,567.50 1018.95,567.50 1025.37,567.50 1031.79,567.50 1038.21,567.50 1044.63,567.50 1051.04,567.50 1057.46,567.50 1063.88,567.50 1070.30,567.50 1076.72,567.50 1083.13,567.50 1089.55,567.50 1095.97,567.50 1102.39,567.50 1108.81,567.50 1115.22,567.50 1121.64,567.50 1128.06,567.50 1134.48,567.50 1140.90,567.50 1147.31,567.50 1153.73,567.50 1160.15,567.50 1166.57,567.50 1172.99,567.50 1179.40,567.50 1185.82,567.50 1192.24,567.50 1198.66,567.50 1205.08,567.50 1211.49,567.50 1217.91,567.50 1224.33,567.50 1230.75,567.50 1237.17,567.50 1243.58,567.50 1250.00,567.50 1256.42,567.50 1262.84,567.50 1269.26,567.50 1275.67,567.50 1282.09,567.50 1288.51,567.50 1294.93,566.50 1301.35,567.50 1307.76,563.25 1314.18,567.50 1320.60,561.25 1327.02,563.75 1333.44,567.50 1339.85,567.50 1346.27,567.50 1352.69,567.50 1359.11,567.50 1365.53,567.50 1371.94,567.50 1378.36,567.50 1384.78,567.50 1391.20,567.50 1397.62,567.50 1404.03,567.50 1410.45,567.50 1416.87,567.50 1423.29,567.50 1429.71,567.50 1436.12,567.50 1442.54,567.50 1442.54,567.5" fill="url(#gob)"/>
<polygon points="3,641 3.00,641.00 4.91,641.00 11.33,641.00 17.75,641.00 24.16,641.00 30.58,641.00 37.00,641.00 43.42,641.00 49.84,641.00 56.25,641.00 62.67,641.00 69.09,641.00 75.51,641.00 81.93,641.00 88.34,641.00 94.76,641.00 101.18,641.00 107.60,641.00 114.02,641.00 120.43,641.00 126.85,641.00 133.27,641.00 139.69,641.00 146.11,641.00 152.52,641.00 158.94,641.00 165.36,641.00 171.78,641.00 178.20,641.00 184.61,641.00 191.03,641.00 197.45,641.00 203.87,641.00 210.29,641.00 216.70,641.00 223.12,641.00 229.54,641.00 235.96,641.00 242.38,641.00 248.79,641.00 255.21,641.00 261.63,641.00 268.05,641.00 274.47,641.00 280.88,641.00 287.30,641.00 293.72,641.00 300.14,641.00 306.56,641.00 312.97,641.00 319.39,641.00 325.81,641.00 332.23,641.00 338.65,641.00 345.06,641.00 351.48,641.00 357.90,641.00 364.32,641.00 370.74,641.00 377.15,641.00 383.57,641.00 389.99,641.00 396.41,641.00 402.83,641.00 409.24,641.00 415.66,641.00 422.08,641.00 428.50,641.00 434.92,641.00 441.33,641.00 447.75,641.00 454.17,641.00 460.59,641.00 467.01,641.00 473.42,641.00 479.84,641.00 486.26,641.00 492.68,641.00 499.10,641.00 505.51,641.00 511.93,641.00 518.35,641.00 524.77,641.00 531.19,641.00 537.60,641.00 544.02,641.00 550.44,641.00 556.86,641.00 563.28,641.00 569.69,641.00 576.11,641.00 582.53,641.00 588.95,641.00 595.37,641.00 601.78,641.00 608.20,641.00 614.62,641.00 621.04,641.00 627.46,641.00 633.87,641.00 640.29,641.00 646.71,641.00 653.13,641.00 659.55,641.00 665.96,641.00 672.38,641.00 678.80,641.00 685.22,641.00 691.64,641.00 698.05,641.00 704.47,641.00 710.89,641.00 717.31,641.00 723.73,641.00 730.14,641.00 736.56,641.00 742.98,641.00 749.40,641.00 755.82,641.00 762.23,641.00 768.65,641.00 775.07,641.00 781.49,641.00 787.91,641.00 794.32,641.00 800.74,641.00 807.16,641.00 813.58,641.00 820.00,641.00 826.41,641.00 832.83,641.00 839.25,645.75 845.67,641.00 852.09,641.00 858.50,641.00 864.92,641.00 871.34,641.00 877.76,641.00 884.18,641.00 890.59,641.00 897.01,641.00 903.43,641.00 909.85,641.00 916.27,641.00 922.68,641.00 929.10,641.00 935.52,641.00 941.94,641.00 948.36,641.00 954.77,641.25 961.19,644.00 967.61,641.50 974.03,641.50 980.45,642.50 986.86,641.00 993.28,641.00 999.70,641.00 1006.12,641.00 1012.54,641.00 1018.95,641.00 1025.37,641.00 1031.79,641.00 1038.21,641.00 1044.63,641.00 1051.04,641.00 1057.46,641.00 1063.88,641.00 1070.30,641.00 1076.72,641.00 1083.13,641.00 1089.55,641.00 1095.97,641.00 1102.39,641.00 1108.81,641.00 1115.22,641.00 1121.64,641.00 1128.06,641.00 1134.48,641.00 1140.90,641.00 1147.31,641.00 1153.73,641.00 1160.15,641.00 1166.57,641.00 1172.99,641.00 1179.40,641.00 1185.82,641.00 1192.24,641.00 1198.66,641.00 1205.08,641.00 1211.49,641.00 1217.91,641.00 1224.33,641.00 1230.75,641.00 1237.17,641.00 1243.58,641.00 1250.00,641.00 1256.42,641.00 1262.84,641.00 1269.26,641.00 1275.67,641.00 1282.09,641.00 1288.51,641.00 1294.93,641.00 1301.35,641.00 1307.76,641.00 1314.18,641.00 1320.60,641.00 1327.02,641.00 1333.44,641.00 1339.85,641.00 1346.27,641.00 1352.69,641.00 1359.11,641.00 1365.53,641.00 1371.94,641.00 1378.36,641.00 1384.78,641.00 1391.20,641.00 1397.62,641.00 1404.03,641.00 1410.45,641.00 1416.87,641.00 1423.29,641.00 1429.71,641.00 1436.12,641.00 1442.54,641.00 1442.54,641" fill="url(#gos)"/>
<line x1="3" x2="1535" y1="567.5" y2="567.5" stroke="#5f626d" stroke-width="1" stroke-dasharray="4.9 4.9"/>
<line x1="3" x2="1535" y1="604" y2="604" stroke="#787b86" stroke-opacity="0.5" stroke-width="1" stroke-dasharray="4.9 4.9"/>
<line x1="3" x2="1535" y1="641.5" y2="641.5" stroke="#5f626d" stroke-width="1" stroke-dasharray="4.9 4.9"/>
<polyline points="3.00,606.50 4.91,605.75 11.33,602.00 17.75,599.00 24.16,594.50 30.58,590.00 37.00,592.50 43.42,582.50 49.84,578.25 56.25,589.50 62.67,588.75 69.09,582.00 75.51,582.75 81.93,581.25 88.34,577.00 94.76,570.00 101.18,561.25 107.60,559.50 114.02,558.75 120.43,559.50 126.85,567.00 133.27,557.00 139.69,550.75 146.11,542.75 152.52,565.25 158.94,573.25 165.36,572.50 171.78,570.75 178.20,585.25 184.61,579.50 191.03,575.75 197.45,572.00 203.87,572.50 210.29,568.75 216.70,554.50 223.12,577.00 229.54,580.75 235.96,584.50 242.38,587.00 248.79,580.75 255.21,574.50 261.63,573.25 268.05,569.50 274.47,568.25 280.88,569.50 287.30,576.25 293.72,571.50 300.14,564.50 306.56,557.50 312.97,550.25 319.39,560.75 325.81,572.00 332.23,581.25 338.65,575.25 345.06,581.25 351.48,586.25 357.90,577.75 364.32,579.50 370.74,566.50 377.15,574.50 383.57,576.50 389.99,606.50 396.41,595.00 402.83,603.25 409.24,603.25 415.66,611.25 422.08,610.75 428.50,607.50 434.92,612.00 441.33,611.25 447.75,607.00 454.17,615.75 460.59,619.50 467.01,636.50 473.42,612.50 479.84,612.00 486.26,607.00 492.68,603.25 499.10,594.00 505.51,587.50 511.93,591.50 518.35,593.25 524.77,598.25 531.19,602.50 537.60,600.75 544.02,591.25 550.44,601.50 556.86,597.50 563.28,603.25 569.69,607.50 576.11,612.75 582.53,609.50 588.95,617.75 595.37,607.50 601.78,610.00 608.20,611.50 614.62,610.00 621.04,614.00 627.46,600.75 633.87,598.75 640.29,599.50 646.71,602.75 653.13,601.50 659.55,592.00 665.96,608.25 672.38,601.25 678.80,610.00 685.22,630.75 691.64,636.50 698.05,622.00 704.47,622.00 710.89,628.25 717.31,624.50 723.73,627.00 730.14,635.00 736.56,627.00 742.98,614.50 749.40,612.00 755.82,612.50 762.23,611.25 768.65,622.00 775.07,633.25 781.49,639.50 787.91,633.25 794.32,635.25 800.74,638.25 807.16,637.00 813.58,640.25 820.00,632.50 826.41,629.50 832.83,627.75 839.25,645.75 845.67,637.00 852.09,630.25 858.50,634.50 864.92,620.00 871.34,620.75 877.76,622.00 884.18,611.50 890.59,611.25 897.01,614.50 903.43,617.00 909.85,617.75 916.27,612.75 922.68,617.00 929.10,618.25 935.52,620.75 941.94,627.00 948.36,636.50 954.77,641.25 961.19,644.00 967.61,641.50 974.03,641.50 980.45,642.50 986.86,635.75 993.28,623.25 999.70,620.75 1006.12,620.75 1012.54,619.00 1018.95,629.00 1025.37,616.25 1031.79,617.50 1038.21,601.25 1044.63,602.75 1051.04,598.25 1057.46,599.00 1063.88,614.00 1070.30,612.00 1076.72,617.00 1083.13,615.75 1089.55,631.50 1095.97,635.75 1102.39,616.50 1108.81,613.25 1115.22,608.75 1121.64,610.00 1128.06,610.75 1134.48,608.25 1140.90,602.75 1147.31,585.75 1153.73,597.50 1160.15,599.50 1166.57,606.50 1172.99,612.75 1179.40,610.75 1185.82,595.75 1192.24,595.25 1198.66,595.25 1205.08,591.50 1211.49,597.75 1217.91,590.75 1224.33,584.50 1230.75,571.50 1237.17,577.75 1243.58,583.75 1250.00,579.50 1256.42,572.00 1262.84,582.50 1269.26,575.75 1275.67,569.00 1282.09,578.25 1288.51,577.75 1294.93,566.50 1301.35,573.25 1307.76,563.25 1314.18,571.25 1320.60,561.25 1327.02,563.75 1333.44,579.50 1339.85,607.00 1346.27,603.75 1352.69,595.25 1359.11,606.25 1365.53,610.25 1371.94,610.00 1378.36,608.25 1384.78,611.25 1391.20,610.00 1397.62,610.50 1404.03,612.00 1410.45,624.50 1416.87,628.25 1423.29,629.75 1429.71,622.75 1436.12,627.00 1442.54,631.50" fill="none" stroke="#7e57c2" stroke-width="1.1" stroke-linejoin="round"/>
<polyline points="3.00,606.50 18.00,605.00 37.00,603.25 50.00,599.50 62.50,596.50 75.00,592.00 88.00,589.00 100.75,583.25 114.00,577.75 126.75,573.25 139.50,569.50 152.25,565.25 165.00,563.25 172.00,563.00 184.50,564.00 197.25,565.75 210.50,567.75 223.00,568.25 229.25,570.75 235.75,574.00 242.00,575.25 255.00,576.25 261.25,576.25 268.00,575.00 281.00,574.50 293.75,574.00 306.75,574.00 313.00,572.00 319.25,570.25 325.75,569.50 338.75,569.00 351.25,570.25 364.50,570.75 370.75,571.25 380.00,571.00 390.00,575.00 403.00,582.50 415.50,587.75 428.50,592.00 441.25,595.00 454.00,600.25 467.00,608.25 473.25,610.75 486.25,612.00 499.00,611.50 511.75,608.25 524.75,605.75 537.50,604.50 550.25,602.00 560.00,599.00 569.50,598.50 582.50,599.50 595.25,602.75 608.00,605.00 621.00,606.50 633.75,607.00 646.75,607.00 659.50,605.75 672.25,605.25 678.75,605.00 691.50,608.25 704.50,610.00 717.25,612.75 730.00,617.75 743.00,620.75 755.75,622.00 768.50,623.25 775.00,623.75 787.75,625.00 800.75,626.50 813.50,628.25 826.25,628.25 839.25,630.75 852.00,634.50 858.50,635.75 871.25,633.25 884.00,630.00 897.00,626.50 909.75,624.00 922.50,622.00 935.50,619.00 945.00,618.50 954.75,620.75 967.50,624.00 980.25,627.75 993.25,630.00 1006.00,630.75 1018.75,631.50 1028.75,631.25 1038.00,628.25 1051.00,622.00 1063.75,617.00 1076.75,613.75 1083.00,613.25 1096.00,615.25 1108.75,613.25 1121.50,612.50 1134.50,613.25 1140.75,613.75 1153.75,611.50 1166.50,610.25 1179.25,607.00 1192.25,604.00 1205.00,601.50 1217.75,599.00 1230.75,595.25 1243.50,594.00 1250.00,592.75 1262.75,587.75 1275.50,583.25 1288.50,580.25 1301.25,577.00 1307.75,575.25 1320.50,573.75 1327.00,572.75 1333.25,572.00 1339.75,574.50 1346.25,577.00 1352.50,577.75 1359.00,580.25 1365.50,583.25 1378.25,588.25 1391.00,594.00 1404.00,599.50 1410.25,603.75 1416.75,609.00 1423.25,612.00 1429.50,613.25 1436.00,615.00 1443.00,617.40" fill="none" stroke="#fdd230" stroke-width="1.15" stroke-linejoin="round"/>
</g>
<line x1="3" x2="1595.5" y1="529.5" y2="529.5" stroke="#e0e2e8" stroke-width="1"/>
<line x1="3" x2="1595.5" y1="657.5" y2="657.5" stroke="#e0e2e8" stroke-width="1"/>
<line x1="1535.5" x2="1535.5" y1="1" y2="687" stroke="#e0e2e8" stroke-width="1"/>
<text x="1545" y="71.7" font-size="12.5" fill="#131722" text-anchor="start" font-weight="normal" textLength="40.3" lengthAdjust="spacingAndGlyphs">0.3700</text>
<text x="1545" y="105.7" font-size="12.5" fill="#131722" text-anchor="start" font-weight="normal" textLength="40.3" lengthAdjust="spacingAndGlyphs">0.3600</text>
<text x="1545" y="139.7" font-size="12.5" fill="#131722" text-anchor="start" font-weight="normal" textLength="40.3" lengthAdjust="spacingAndGlyphs">0.3500</text>
<text x="1545" y="173.7" font-size="12.5" fill="#131722" text-anchor="start" font-weight="normal" textLength="40.3" lengthAdjust="spacingAndGlyphs">0.3400</text>
<text x="1545" y="207.7" font-size="12.5" fill="#131722" text-anchor="start" font-weight="normal" textLength="40.3" lengthAdjust="spacingAndGlyphs">0.3300</text>
<text x="1545" y="241.7" font-size="12.5" fill="#131722" text-anchor="start" font-weight="normal" textLength="40.3" lengthAdjust="spacingAndGlyphs">0.3200</text>
<text x="1545" y="275.7" font-size="12.5" fill="#131722" text-anchor="start" font-weight="normal" textLength="40.3" lengthAdjust="spacingAndGlyphs">0.3100</text>
<text x="1545" y="309.7" font-size="12.5" fill="#131722" text-anchor="start" font-weight="normal" textLength="40.3" lengthAdjust="spacingAndGlyphs">0.3000</text>
<text x="1545" y="343.7" font-size="12.5" fill="#131722" text-anchor="start" font-weight="normal" textLength="40.3" lengthAdjust="spacingAndGlyphs">0.2900</text>
<text x="1545" y="411.7" font-size="12.5" fill="#131722" text-anchor="start" font-weight="normal" textLength="40.3" lengthAdjust="spacingAndGlyphs">0.2700</text>
<text x="1545" y="445.7" font-size="12.5" fill="#131722" text-anchor="start" font-weight="normal" textLength="40.3" lengthAdjust="spacingAndGlyphs">0.2600</text>
<text x="1545" y="479.7" font-size="12.5" fill="#131722" text-anchor="start" font-weight="normal" textLength="40.3" lengthAdjust="spacingAndGlyphs">0.2500</text>
<text x="1545" y="513.7" font-size="12.5" fill="#131722" text-anchor="start" font-weight="normal" textLength="40.3" lengthAdjust="spacingAndGlyphs">0.2400</text>
<text x="1545" y="553.2" font-size="12.5" fill="#131722" text-anchor="start" font-weight="normal" textLength="33" lengthAdjust="spacingAndGlyphs">80.00</text>
<text x="1545" y="590.2" font-size="12.5" fill="#131722" text-anchor="start" font-weight="normal" textLength="33" lengthAdjust="spacingAndGlyphs">60.00</text>
<text x="1545" y="627.2" font-size="12.5" fill="#131722" text-anchor="start" font-weight="normal" textLength="33" lengthAdjust="spacingAndGlyphs">40.00</text>
<path d="M1536 362 h53 a2.5 2.5 0 0 1 2.5 2.5 v13 a2.5 2.5 0 0 1 -2.5 2.5 h-53 z" fill="#ef5350"/>
<text x="1545.5" y="375.5" font-size="12" fill="#ffffff" text-anchor="start" font-weight="bold" textLength="39.5" lengthAdjust="spacingAndGlyphs">0.2807</text>
<text x="28.8" y="677" font-size="12.5" fill="#131722" text-anchor="start" font-weight="normal" textLength="16.5" lengthAdjust="spacingAndGlyphs">Jul</text>
<text x="224.6" y="677" font-size="12.5" fill="#131722" text-anchor="start" font-weight="normal" textLength="22.8" lengthAdjust="spacingAndGlyphs">Aug</text>
<text x="424.0" y="677" font-size="12.5" fill="#131722" text-anchor="start" font-weight="normal" textLength="21.8" lengthAdjust="spacingAndGlyphs">Sep</text>
<text x="617.0" y="677" font-size="12.5" fill="#131722" text-anchor="start" font-weight="normal" textLength="21" lengthAdjust="spacingAndGlyphs">Oct</text>
<text x="815.5" y="677" font-size="12.5" fill="#131722" text-anchor="start" font-weight="normal" textLength="21.9" lengthAdjust="spacingAndGlyphs">Nov</text>
<text x="1008.2" y="677" font-size="12.5" fill="#131722" text-anchor="start" font-weight="normal" textLength="21.6" lengthAdjust="spacingAndGlyphs">Dec</text>
<text x="1203.1" y="677" font-size="12.5" fill="#131722" text-anchor="start" font-weight="bold" textLength="29.6" lengthAdjust="spacingAndGlyphs">2026</text>
<text x="1406.6" y="677" font-size="12.5" fill="#131722" text-anchor="start" font-weight="normal" textLength="20.6" lengthAdjust="spacingAndGlyphs">Feb</text>
<circle cx="26.5" cy="15.4" r="6.3" fill="#0c9f8c"/>
<path d="M23.2 13.7 l2.2 -1.9 h3.2 l2 1.9 l-3.7 4.2 z" fill="#ffffff" fill-opacity="0.9"/>
<path d="M26 13.9 h1.6 v3 h-1.6z" fill="#0c9f8c"/>
<circle cx="19.7" cy="22.4" r="8.1" fill="#ffffff"/>
<circle cx="19.7" cy="22.4" r="6.3" fill="#c9251d"/>
<path d="M16.3 18.9 l6.4 1.6 l-3.4 6.3 z" fill="#ffffff"/>
<path d="M18 20.3 l3 0.8 l-1.6 2.2 z" fill="#c9251d" fill-opacity="0.6"/>
<text x="37.7" y="25.3" font-size="16" fill="#131722" text-anchor="start" font-weight="normal" textLength="243.6" lengthAdjust="spacingAndGlyphs">TRON / TetherUS · 1D · Binance</text>
<circle cx="300.5" cy="18.8" r="10" fill="#26a69a" fill-opacity="0.18"/>
<circle cx="300.5" cy="18.8" r="4.4" fill="#089981"/>
<text x="319.5" y="24.3" font-size="13" fill="#131722" text-anchor="start" font-weight="normal" textLength="9" lengthAdjust="spacingAndGlyphs">O</text>
<text x="330.75" y="24.3" font-size="13" fill="#f23645" text-anchor="start" font-weight="normal" textLength="42.25" lengthAdjust="spacingAndGlyphs">0.2834</text>
<text x="380.75" y="24.3" font-size="13" fill="#131722" text-anchor="start" font-weight="normal" textLength="8.5" lengthAdjust="spacingAndGlyphs">H</text>
<text x="391.25" y="24.3" font-size="13" fill="#f23645" text-anchor="start" font-weight="normal" textLength="41.75" lengthAdjust="spacingAndGlyphs">0.2838</text>
<text x="441.25" y="24.3" font-size="13" fill="#131722" text-anchor="start" font-weight="normal" textLength="6.5" lengthAdjust="spacingAndGlyphs">L</text>
<text x="449.5" y="24.3" font-size="13" fill="#f23645" text-anchor="start" font-weight="normal" textLength="42.5" lengthAdjust="spacingAndGlyphs">0.2804</text>
<text x="500" y="24.3" font-size="13" fill="#131722" text-anchor="start" font-weight="normal" textLength="8" lengthAdjust="spacingAndGlyphs">C</text>
<text x="509.5" y="24.3" font-size="13" fill="#f23645" text-anchor="start" font-weight="normal" textLength="41.75" lengthAdjust="spacingAndGlyphs">0.2807</text>
<text x="560" y="24.3" font-size="13" fill="#f23645" text-anchor="start" font-weight="normal" textLength="48.75" lengthAdjust="spacingAndGlyphs">−0.0026</text>
<text x="615" y="24.3" font-size="13" fill="#f23645" text-anchor="start" font-weight="normal" textLength="53.75" lengthAdjust="spacingAndGlyphs">(−0.92%)</text>
<rect x="12.3" y="37" width="66" height="37.5" rx="4.5" fill="#ffffff" stroke="#f23645" stroke-opacity="0.75" stroke-width="1"/>
<text x="45.3" y="51.6" font-size="13" fill="#f23645" text-anchor="middle" font-weight="bold" textLength="43" lengthAdjust="spacingAndGlyphs">0.2806</text>
<text x="45.3" y="67.4" font-size="12" fill="#f23645" text-anchor="middle" font-weight="normal" textLength="26" lengthAdjust="spacingAndGlyphs">SELL</text>
<text x="88.7" y="58.7" font-size="11" fill="#131722" text-anchor="start" font-weight="normal" textLength="32.3" lengthAdjust="spacingAndGlyphs">0.0001</text>
<rect x="131.4" y="37" width="66.5" height="37.5" rx="4.5" fill="#ffffff" stroke="#2962ff" stroke-opacity="0.8" stroke-width="1"/>
<text x="164.7" y="51.6" font-size="13" fill="#2962ff" text-anchor="middle" font-weight="bold" textLength="43" lengthAdjust="spacingAndGlyphs">0.2807</text>
<text x="164.7" y="67.4" font-size="12" fill="#2962ff" text-anchor="middle" font-weight="normal" textLength="22.5" lengthAdjust="spacingAndGlyphs">BUY</text>
<text x="12.75" y="96.5" font-size="13.5" fill="#131722" text-anchor="start" font-weight="normal" textLength="113.75" lengthAdjust="spacingAndGlyphs">BB 20 SMA close 2</text>
<text x="136.3" y="96.5" font-size="13.5" fill="#2962ff" text-anchor="start" font-weight="normal" textLength="42.7" lengthAdjust="spacingAndGlyphs">0.2960</text>
<text x="186.2" y="96.5" font-size="13.5" fill="#f23645" text-anchor="start" font-weight="normal" textLength="41.6" lengthAdjust="spacingAndGlyphs">0.3171</text>
<text x="236.6" y="96.5" font-size="13.5" fill="#089981" text-anchor="start" font-weight="normal" textLength="42.4" lengthAdjust="spacingAndGlyphs">0.2749</text>
<rect x="12.3" y="109.2" width="31" height="21.8" rx="3.5" fill="#ffffff" stroke="#e0e3eb" stroke-width="1"/>
<path d="M23.2 122.2 l4.3 -4.2 l4.3 4.2" fill="none" stroke="#131722" stroke-width="1.4"/>
<text x="12.9" y="552.2" font-size="13.5" fill="#131722" text-anchor="start" font-weight="normal" textLength="74" lengthAdjust="spacingAndGlyphs">RSI 14 close</text>
<text x="96.9" y="552.2" font-size="13.5" fill="#7e57c2" text-anchor="start" font-weight="normal" textLength="34.1" lengthAdjust="spacingAndGlyphs">34.91</text>
<text x="140" y="552.2" font-size="13.5" fill="#fbc02d" text-anchor="start" font-weight="normal" textLength="34" lengthAdjust="spacingAndGlyphs">42.69</text>
<g stroke="#ffffff" stroke-width="2.4" stroke-linejoin="round" fill="#131722">
<path d="M16 625 h13 v15.6 h-6.5 v-9.1 h-6.5 z"/>
<circle cx="34.4" cy="627.6" r="2.7"/>
<path d="M40.6 625 h8.4 l-5.9 15.6 h-7.5 z"/>
<text x="57.5" y="640.6" font-size="21.8" font-weight="bold" textLength="133.75" lengthAdjust="spacingAndGlyphs">TradingView</text>
</g>
<g fill="#131722">
<path d="M16 625 h13 v15.6 h-6.5 v-9.1 h-6.5 z"/>
<circle cx="34.4" cy="627.6" r="2.7"/>
<path d="M40.6 625 h8.4 l-5.9 15.6 h-7.5 z"/>
<text x="57.5" y="640.6" font-size="21.8" font-weight="bold" textLength="133.75" lengthAdjust="spacingAndGlyphs">TradingView</text>
</g>
<rect x="1539.8" y="6" width="50.5" height="27" rx="4" fill="#ffffff" stroke="#ececec" stroke-width="1"/>
<text x="1544.5" y="24.8" font-size="13" fill="#131722" text-anchor="start" font-weight="normal" textLength="30.5" lengthAdjust="spacingAndGlyphs">USDT</text>
<path d="M1579.7 18.6 l2.8 2.4 l2.8 -2.4" fill="none" stroke="#131722" stroke-width="1.3"/>
<circle cx="1442.8" cy="514" r="12.6" fill="#ffffff"/>
<circle cx="1442.8" cy="514" r="11" fill="none" stroke="#9c27b0" stroke-width="1.3"/>
<path transform="translate(1442.8 514)" d="M3.8 -6.1 L-4.3 0.5 L-0.4 0.5 L-3.6 6.2 L4.3 -0.5 L0.4 -0.5 Z" fill="#9c27b0"/>
<path d="M1557.4 673.1 l4.15 -6.9 h8.3 l4.15 6.9 l-4.15 6.9 h-8.3 z" fill="none" stroke="#131722" stroke-width="1.3"/>
<circle cx="1565.6" cy="673.1" r="2.3" fill="none" stroke="#131722" stroke-width="1.3"/>
</svg>
<!--OVERLAY-->
</body></html>
